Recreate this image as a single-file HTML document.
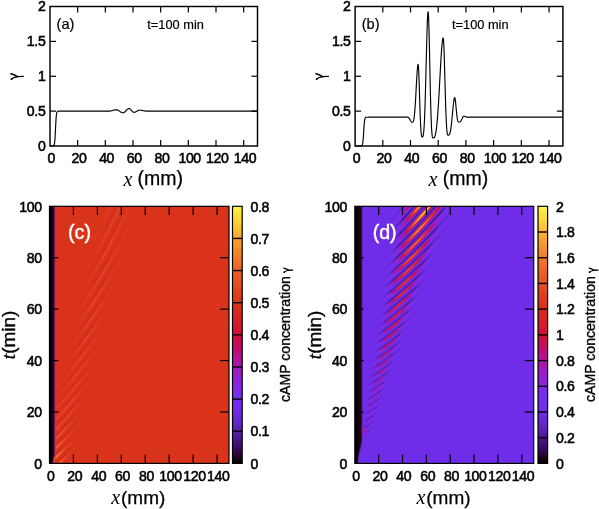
<!DOCTYPE html>
<html><head><meta charset="utf-8"><style>
html,body{margin:0;padding:0;background:#fff;width:599px;height:509px;overflow:hidden}
canvas{position:absolute}
#cc{left:49.5px;top:206.3px;width:179.5px;height:257.1px;background:#d9341a}
#cd{left:354.8px;top:206.3px;width:178.9px;height:257.1px;background:#6f2ce9}
svg{position:absolute;left:0;top:0}
</style></head><body>
<canvas id="cc" width="180" height="257"></canvas>
<canvas id="cd" width="179" height="257"></canvas>
<svg width="599" height="509" viewBox="0 0 599 509"><defs><linearGradient id="gc" x1="0" y1="1" x2="0" y2="0"><stop offset="0" stop-color="#000000"/><stop offset="0.02" stop-color="#1e0314"/><stop offset="0.03" stop-color="#28052f"/><stop offset="0.05" stop-color="#30084f"/><stop offset="0.06" stop-color="#390c63"/><stop offset="0.08" stop-color="#421074"/><stop offset="0.09" stop-color="#4a1485"/><stop offset="0.11" stop-color="#521996"/><stop offset="0.12" stop-color="#581ea8"/><stop offset="0.14" stop-color="#5e23b9"/><stop offset="0.16" stop-color="#6427c8"/><stop offset="0.17" stop-color="#6729d3"/><stop offset="0.19" stop-color="#6b2adf"/><stop offset="0.2" stop-color="#6e2ce8"/><stop offset="0.22" stop-color="#712dea"/><stop offset="0.23" stop-color="#742dec"/><stop offset="0.25" stop-color="#762eee"/><stop offset="0.27" stop-color="#7a2ceb"/><stop offset="0.28" stop-color="#7f2ae8"/><stop offset="0.3" stop-color="#8328e5"/><stop offset="0.31" stop-color="#8926dd"/><stop offset="0.33" stop-color="#8f22d4"/><stop offset="0.34" stop-color="#961fcc"/><stop offset="0.36" stop-color="#9c1cc0"/><stop offset="0.38" stop-color="#a419b4"/><stop offset="0.39" stop-color="#ab16a8"/><stop offset="0.41" stop-color="#b11399"/><stop offset="0.42" stop-color="#b61188"/><stop offset="0.44" stop-color="#bc0e77"/><stop offset="0.45" stop-color="#c10c66"/><stop offset="0.47" stop-color="#c50e56"/><stop offset="0.48" stop-color="#ca0f47"/><stop offset="0.5" stop-color="#ce1037"/><stop offset="0.52" stop-color="#d01433"/><stop offset="0.53" stop-color="#d2192f"/><stop offset="0.55" stop-color="#d51d2b"/><stop offset="0.56" stop-color="#d62227"/><stop offset="0.58" stop-color="#d62624"/><stop offset="0.59" stop-color="#d72b21"/><stop offset="0.61" stop-color="#d82f1d"/><stop offset="0.62" stop-color="#d9341a"/><stop offset="0.64" stop-color="#dc3a1c"/><stop offset="0.66" stop-color="#de401e"/><stop offset="0.67" stop-color="#e04620"/><stop offset="0.69" stop-color="#e34b22"/><stop offset="0.7" stop-color="#e55124"/><stop offset="0.72" stop-color="#e75726"/><stop offset="0.73" stop-color="#e95c27"/><stop offset="0.75" stop-color="#eb6228"/><stop offset="0.77" stop-color="#ed6a29"/><stop offset="0.78" stop-color="#ee712a"/><stop offset="0.8" stop-color="#f0782c"/><stop offset="0.81" stop-color="#f1812d"/><stop offset="0.83" stop-color="#f38a2e"/><stop offset="0.84" stop-color="#f49230"/><stop offset="0.86" stop-color="#f69d30"/><stop offset="0.88" stop-color="#f8a831"/><stop offset="0.89" stop-color="#f9b232"/><stop offset="0.91" stop-color="#fabd33"/><stop offset="0.92" stop-color="#fcc636"/><stop offset="0.94" stop-color="#fdd038"/><stop offset="0.95" stop-color="#fed93b"/><stop offset="0.97" stop-color="#fee03f"/><stop offset="0.98" stop-color="#ffe842"/><stop offset="1" stop-color="#fff046"/></linearGradient><linearGradient id="gd" x1="0" y1="1" x2="0" y2="0"><stop offset="0" stop-color="#000000"/><stop offset="0.02" stop-color="#1e0314"/><stop offset="0.03" stop-color="#28052f"/><stop offset="0.05" stop-color="#30084f"/><stop offset="0.06" stop-color="#390c63"/><stop offset="0.08" stop-color="#421074"/><stop offset="0.09" stop-color="#4a1485"/><stop offset="0.11" stop-color="#521996"/><stop offset="0.12" stop-color="#581ea8"/><stop offset="0.14" stop-color="#5e23b9"/><stop offset="0.16" stop-color="#6427c8"/><stop offset="0.17" stop-color="#6729d3"/><stop offset="0.19" stop-color="#6b2adf"/><stop offset="0.2" stop-color="#6e2ce8"/><stop offset="0.22" stop-color="#712dea"/><stop offset="0.23" stop-color="#742dec"/><stop offset="0.25" stop-color="#762eee"/><stop offset="0.27" stop-color="#7a2ceb"/><stop offset="0.28" stop-color="#7f2ae8"/><stop offset="0.3" stop-color="#8328e5"/><stop offset="0.31" stop-color="#8926dd"/><stop offset="0.33" stop-color="#8f22d4"/><stop offset="0.34" stop-color="#961fcc"/><stop offset="0.36" stop-color="#9c1cc0"/><stop offset="0.38" stop-color="#a419b4"/><stop offset="0.39" stop-color="#ab16a8"/><stop offset="0.41" stop-color="#b11399"/><stop offset="0.42" stop-color="#b61188"/><stop offset="0.44" stop-color="#bc0e77"/><stop offset="0.45" stop-color="#c10c66"/><stop offset="0.47" stop-color="#c50e56"/><stop offset="0.48" stop-color="#ca0f47"/><stop offset="0.5" stop-color="#ce1037"/><stop offset="0.52" stop-color="#d01433"/><stop offset="0.53" stop-color="#d2192f"/><stop offset="0.55" stop-color="#d51d2b"/><stop offset="0.56" stop-color="#d62227"/><stop offset="0.58" stop-color="#d62624"/><stop offset="0.59" stop-color="#d72b21"/><stop offset="0.61" stop-color="#d82f1d"/><stop offset="0.62" stop-color="#d9341a"/><stop offset="0.64" stop-color="#dc3a1c"/><stop offset="0.66" stop-color="#de401e"/><stop offset="0.67" stop-color="#e04620"/><stop offset="0.69" stop-color="#e34b22"/><stop offset="0.7" stop-color="#e55124"/><stop offset="0.72" stop-color="#e75726"/><stop offset="0.73" stop-color="#e95c27"/><stop offset="0.75" stop-color="#eb6228"/><stop offset="0.77" stop-color="#ed6a29"/><stop offset="0.78" stop-color="#ee712a"/><stop offset="0.8" stop-color="#f0782c"/><stop offset="0.81" stop-color="#f1812d"/><stop offset="0.83" stop-color="#f38a2e"/><stop offset="0.84" stop-color="#f49230"/><stop offset="0.86" stop-color="#f69d30"/><stop offset="0.88" stop-color="#f8a831"/><stop offset="0.89" stop-color="#f9b232"/><stop offset="0.91" stop-color="#fabd33"/><stop offset="0.92" stop-color="#fcc636"/><stop offset="0.94" stop-color="#fdd038"/><stop offset="0.95" stop-color="#fed93b"/><stop offset="0.97" stop-color="#fee03f"/><stop offset="0.98" stop-color="#ffe842"/><stop offset="1" stop-color="#fff046"/></linearGradient></defs>
<rect x="50" y="6.5" width="207.5" height="139.5" fill="none" stroke="#000" stroke-width="1.45"/>
<text x="51.3" y="162.6" font-size="14.1" text-anchor="middle" font-family='"Liberation Sans", sans-serif' fill="#000" stroke="#000" stroke-width="0.55" letter-spacing="-0.35" >0</text>
<line x1="77.67" y1="146" x2="77.67" y2="140" stroke="#000" stroke-width="1.2"/>
<line x1="77.67" y1="6.5" x2="77.67" y2="12.5" stroke="#000" stroke-width="1.2"/>
<text x="78.97" y="162.6" font-size="14.1" text-anchor="middle" font-family='"Liberation Sans", sans-serif' fill="#000" stroke="#000" stroke-width="0.55" letter-spacing="-0.35" >20</text>
<line x1="105.33" y1="146" x2="105.33" y2="140" stroke="#000" stroke-width="1.2"/>
<line x1="105.33" y1="6.5" x2="105.33" y2="12.5" stroke="#000" stroke-width="1.2"/>
<text x="106.63" y="162.6" font-size="14.1" text-anchor="middle" font-family='"Liberation Sans", sans-serif' fill="#000" stroke="#000" stroke-width="0.55" letter-spacing="-0.35" >40</text>
<line x1="133" y1="146" x2="133" y2="140" stroke="#000" stroke-width="1.2"/>
<line x1="133" y1="6.5" x2="133" y2="12.5" stroke="#000" stroke-width="1.2"/>
<text x="134.3" y="162.6" font-size="14.1" text-anchor="middle" font-family='"Liberation Sans", sans-serif' fill="#000" stroke="#000" stroke-width="0.55" letter-spacing="-0.35" >60</text>
<line x1="160.67" y1="146" x2="160.67" y2="140" stroke="#000" stroke-width="1.2"/>
<line x1="160.67" y1="6.5" x2="160.67" y2="12.5" stroke="#000" stroke-width="1.2"/>
<text x="161.97" y="162.6" font-size="14.1" text-anchor="middle" font-family='"Liberation Sans", sans-serif' fill="#000" stroke="#000" stroke-width="0.55" letter-spacing="-0.35" >80</text>
<line x1="188.33" y1="146" x2="188.33" y2="140" stroke="#000" stroke-width="1.2"/>
<line x1="188.33" y1="6.5" x2="188.33" y2="12.5" stroke="#000" stroke-width="1.2"/>
<text x="189.63" y="162.6" font-size="14.1" text-anchor="middle" font-family='"Liberation Sans", sans-serif' fill="#000" stroke="#000" stroke-width="0.55" letter-spacing="-0.35" >100</text>
<line x1="216" y1="146" x2="216" y2="140" stroke="#000" stroke-width="1.2"/>
<line x1="216" y1="6.5" x2="216" y2="12.5" stroke="#000" stroke-width="1.2"/>
<text x="217.3" y="162.6" font-size="14.1" text-anchor="middle" font-family='"Liberation Sans", sans-serif' fill="#000" stroke="#000" stroke-width="0.55" letter-spacing="-0.35" >120</text>
<line x1="243.67" y1="146" x2="243.67" y2="140" stroke="#000" stroke-width="1.2"/>
<line x1="243.67" y1="6.5" x2="243.67" y2="12.5" stroke="#000" stroke-width="1.2"/>
<text x="244.97" y="162.6" font-size="14.1" text-anchor="middle" font-family='"Liberation Sans", sans-serif' fill="#000" stroke="#000" stroke-width="0.55" letter-spacing="-0.35" >140</text>
<text x="45.4" y="150.9" font-size="14.1" text-anchor="end" font-family='"Liberation Sans", sans-serif' fill="#000" stroke="#000" stroke-width="0.55" letter-spacing="-0.35" >0</text>
<line x1="50" y1="111.12" x2="56" y2="111.12" stroke="#000" stroke-width="1.2"/>
<line x1="257.5" y1="111.12" x2="251.5" y2="111.12" stroke="#000" stroke-width="1.2"/>
<text x="45.4" y="116.03" font-size="14.1" text-anchor="end" font-family='"Liberation Sans", sans-serif' fill="#000" stroke="#000" stroke-width="0.55" letter-spacing="-0.35" >0.5</text>
<line x1="50" y1="76.25" x2="56" y2="76.25" stroke="#000" stroke-width="1.2"/>
<line x1="257.5" y1="76.25" x2="251.5" y2="76.25" stroke="#000" stroke-width="1.2"/>
<text x="45.4" y="81.15" font-size="14.1" text-anchor="end" font-family='"Liberation Sans", sans-serif' fill="#000" stroke="#000" stroke-width="0.55" letter-spacing="-0.35" >1</text>
<line x1="50" y1="41.38" x2="56" y2="41.38" stroke="#000" stroke-width="1.2"/>
<line x1="257.5" y1="41.38" x2="251.5" y2="41.38" stroke="#000" stroke-width="1.2"/>
<text x="45.4" y="46.27" font-size="14.1" text-anchor="end" font-family='"Liberation Sans", sans-serif' fill="#000" stroke="#000" stroke-width="0.55" letter-spacing="-0.35" >1.5</text>
<text x="45.4" y="11.4" font-size="14.1" text-anchor="end" font-family='"Liberation Sans", sans-serif' fill="#000" stroke="#000" stroke-width="0.55" letter-spacing="-0.35" >2</text>
<g transform="translate(0 0)" fill="none" stroke="#000" stroke-linecap="round"><path d="M10.9 73.7 C13 74.2 15.5 75.4 17.6 76.6" stroke-width="1.5"/><path d="M11.6 79.1 C12.6 77.9 15 77.2 17.6 76.6" stroke-width="1.2"/><circle cx="11.5" cy="79.2" r="0.9" fill="#000" stroke="none"/><path d="M17.2 76.6 L23.2 76.4" stroke-width="1.45"/></g>
<text x="123.4" y="185.5" font-size="20" text-anchor="start" font-family='"Liberation Serif", serif' fill="#000" stroke="#000" stroke-width="0"  font-style="italic">x</text>
<text x="137.6" y="185.4" font-size="19.5" text-anchor="start" font-family='"Liberation Sans", sans-serif' fill="#000" stroke="#000" stroke-width="0.25"  >(mm)</text>
<text x="56.6" y="28.9" font-size="14.6" text-anchor="start" font-family='"Liberation Sans", sans-serif' fill="#000" stroke="#000" stroke-width="0.2"  >(a)</text>
<text x="147.3" y="28.7" font-size="12.8" text-anchor="start" font-family='"Liberation Sans", sans-serif' fill="#000" stroke="#000" stroke-width="0.2"  >t=100 min</text>
<rect x="355.1" y="6.5" width="207.8" height="139.5" fill="none" stroke="#000" stroke-width="1.45"/>
<text x="356.4" y="162.6" font-size="14.1" text-anchor="middle" font-family='"Liberation Sans", sans-serif' fill="#000" stroke="#000" stroke-width="0.55" letter-spacing="-0.35" >0</text>
<line x1="382.81" y1="146" x2="382.81" y2="140" stroke="#000" stroke-width="1.2"/>
<line x1="382.81" y1="6.5" x2="382.81" y2="12.5" stroke="#000" stroke-width="1.2"/>
<text x="384.11" y="162.6" font-size="14.1" text-anchor="middle" font-family='"Liberation Sans", sans-serif' fill="#000" stroke="#000" stroke-width="0.55" letter-spacing="-0.35" >20</text>
<line x1="410.51" y1="146" x2="410.51" y2="140" stroke="#000" stroke-width="1.2"/>
<line x1="410.51" y1="6.5" x2="410.51" y2="12.5" stroke="#000" stroke-width="1.2"/>
<text x="411.81" y="162.6" font-size="14.1" text-anchor="middle" font-family='"Liberation Sans", sans-serif' fill="#000" stroke="#000" stroke-width="0.55" letter-spacing="-0.35" >40</text>
<line x1="438.22" y1="146" x2="438.22" y2="140" stroke="#000" stroke-width="1.2"/>
<line x1="438.22" y1="6.5" x2="438.22" y2="12.5" stroke="#000" stroke-width="1.2"/>
<text x="439.52" y="162.6" font-size="14.1" text-anchor="middle" font-family='"Liberation Sans", sans-serif' fill="#000" stroke="#000" stroke-width="0.55" letter-spacing="-0.35" >60</text>
<line x1="465.93" y1="146" x2="465.93" y2="140" stroke="#000" stroke-width="1.2"/>
<line x1="465.93" y1="6.5" x2="465.93" y2="12.5" stroke="#000" stroke-width="1.2"/>
<text x="467.23" y="162.6" font-size="14.1" text-anchor="middle" font-family='"Liberation Sans", sans-serif' fill="#000" stroke="#000" stroke-width="0.55" letter-spacing="-0.35" >80</text>
<line x1="493.63" y1="146" x2="493.63" y2="140" stroke="#000" stroke-width="1.2"/>
<line x1="493.63" y1="6.5" x2="493.63" y2="12.5" stroke="#000" stroke-width="1.2"/>
<text x="494.93" y="162.6" font-size="14.1" text-anchor="middle" font-family='"Liberation Sans", sans-serif' fill="#000" stroke="#000" stroke-width="0.55" letter-spacing="-0.35" >100</text>
<line x1="521.34" y1="146" x2="521.34" y2="140" stroke="#000" stroke-width="1.2"/>
<line x1="521.34" y1="6.5" x2="521.34" y2="12.5" stroke="#000" stroke-width="1.2"/>
<text x="522.64" y="162.6" font-size="14.1" text-anchor="middle" font-family='"Liberation Sans", sans-serif' fill="#000" stroke="#000" stroke-width="0.55" letter-spacing="-0.35" >120</text>
<line x1="549.05" y1="146" x2="549.05" y2="140" stroke="#000" stroke-width="1.2"/>
<line x1="549.05" y1="6.5" x2="549.05" y2="12.5" stroke="#000" stroke-width="1.2"/>
<text x="550.35" y="162.6" font-size="14.1" text-anchor="middle" font-family='"Liberation Sans", sans-serif' fill="#000" stroke="#000" stroke-width="0.55" letter-spacing="-0.35" >140</text>
<text x="350.5" y="150.9" font-size="14.1" text-anchor="end" font-family='"Liberation Sans", sans-serif' fill="#000" stroke="#000" stroke-width="0.55" letter-spacing="-0.35" >0</text>
<line x1="355.1" y1="111.12" x2="361.1" y2="111.12" stroke="#000" stroke-width="1.2"/>
<line x1="562.9" y1="111.12" x2="556.9" y2="111.12" stroke="#000" stroke-width="1.2"/>
<text x="350.5" y="116.03" font-size="14.1" text-anchor="end" font-family='"Liberation Sans", sans-serif' fill="#000" stroke="#000" stroke-width="0.55" letter-spacing="-0.35" >0.5</text>
<line x1="355.1" y1="76.25" x2="361.1" y2="76.25" stroke="#000" stroke-width="1.2"/>
<line x1="562.9" y1="76.25" x2="556.9" y2="76.25" stroke="#000" stroke-width="1.2"/>
<text x="350.5" y="81.15" font-size="14.1" text-anchor="end" font-family='"Liberation Sans", sans-serif' fill="#000" stroke="#000" stroke-width="0.55" letter-spacing="-0.35" >1</text>
<line x1="355.1" y1="41.38" x2="361.1" y2="41.38" stroke="#000" stroke-width="1.2"/>
<line x1="562.9" y1="41.38" x2="556.9" y2="41.38" stroke="#000" stroke-width="1.2"/>
<text x="350.5" y="46.27" font-size="14.1" text-anchor="end" font-family='"Liberation Sans", sans-serif' fill="#000" stroke="#000" stroke-width="0.55" letter-spacing="-0.35" >1.5</text>
<text x="350.5" y="11.4" font-size="14.1" text-anchor="end" font-family='"Liberation Sans", sans-serif' fill="#000" stroke="#000" stroke-width="0.55" letter-spacing="-0.35" >2</text>
<g transform="translate(305.1 0)" fill="none" stroke="#000" stroke-linecap="round"><path d="M10.9 73.7 C13 74.2 15.5 75.4 17.6 76.6" stroke-width="1.5"/><path d="M11.6 79.1 C12.6 77.9 15 77.2 17.6 76.6" stroke-width="1.2"/><circle cx="11.5" cy="79.2" r="0.9" fill="#000" stroke="none"/><path d="M17.2 76.6 L23.2 76.4" stroke-width="1.45"/></g>
<text x="428.5" y="185.5" font-size="20" text-anchor="start" font-family='"Liberation Serif", serif' fill="#000" stroke="#000" stroke-width="0"  font-style="italic">x</text>
<text x="442.7" y="185.4" font-size="19.5" text-anchor="start" font-family='"Liberation Sans", sans-serif' fill="#000" stroke="#000" stroke-width="0.25"  >(mm)</text>
<text x="361.7" y="28.9" font-size="14.6" text-anchor="start" font-family='"Liberation Sans", sans-serif' fill="#000" stroke="#000" stroke-width="0.2"  >(b)</text>
<text x="452" y="28.7" font-size="12.8" text-anchor="start" font-family='"Liberation Sans", sans-serif' fill="#000" stroke="#000" stroke-width="0.2"  >t=100 min</text>
<path d="M50 146L50.14 146L50.28 146L50.41 146L50.55 146L50.69 146L50.83 146L50.97 146L51.11 146L51.24 146L51.38 146L51.52 146L51.66 146L51.8 146L51.94 145.99L52.08 145.99L52.21 145.99L52.35 145.98L52.49 145.98L52.63 145.97L52.77 145.96L52.91 145.94L53.04 145.91L53.18 145.88L53.32 145.83L53.46 145.77L53.6 145.68L53.73 145.55L53.87 145.37L54.01 145.13L54.15 144.8L54.29 144.35L54.43 143.73L54.56 142.92L54.7 141.84L54.84 140.46L54.98 138.72L55.12 136.62L55.26 134.17L55.39 131.44L55.53 128.56L55.67 125.68L55.81 122.96L55.95 120.5L56.09 118.4L56.23 116.67L56.36 115.28L56.5 114.21L56.64 113.39L56.78 112.78L56.92 112.33L57.05 111.99L57.19 111.75L57.33 111.58L57.47 111.45L57.61 111.36L57.75 111.29L57.88 111.25L58.02 111.21L58.16 111.19L58.3 111.17L58.44 111.16L58.58 111.15L58.72 111.14L58.85 111.14L58.99 111.13L59.13 111.13L59.27 111.13L59.41 111.13L59.55 111.13L59.68 111.13L59.82 111.13L59.96 111.13L60.1 111.13L60.24 111.13L60.38 111.13L60.51 111.13L60.65 111.13L60.79 111.13L60.93 111.13L61.07 111.13L61.2 111.13L61.34 111.13L61.48 111.13L61.62 111.13L61.76 111.13L61.9 111.13L62.03 111.13L62.17 111.13L62.31 111.13L62.45 111.13L62.59 111.13L62.73 111.13L62.87 111.13L63 111.13L63.14 111.13L63.28 111.13L63.42 111.13L63.56 111.13L63.7 111.13L63.83 111.13L63.97 111.13L64.11 111.13L64.25 111.13L64.39 111.13L64.53 111.13L64.66 111.13L64.8 111.13L64.94 111.13L65.08 111.13L65.22 111.13L65.36 111.13L65.49 111.13L65.63 111.13L65.77 111.13L65.91 111.13L66.05 111.13L66.19 111.13L66.32 111.13L66.46 111.13L66.6 111.13L66.74 111.13L66.88 111.13L67.02 111.13L67.15 111.13L67.29 111.13L67.43 111.13L67.57 111.13L67.71 111.13L67.84 111.13L67.98 111.13L68.12 111.13L68.26 111.13L68.4 111.13L68.54 111.13L68.67 111.13L68.81 111.13L68.95 111.13L69.09 111.13L69.23 111.13L69.37 111.13L69.5 111.13L69.64 111.13L69.78 111.13L69.92 111.13L70.06 111.13L70.2 111.13L70.33 111.13L70.47 111.13L70.61 111.13L70.75 111.13L70.89 111.13L71.03 111.13L71.16 111.13L71.3 111.13L71.44 111.13L71.58 111.13L71.72 111.13L71.86 111.13L72 111.13L72.13 111.13L72.27 111.13L72.41 111.13L72.55 111.13L72.69 111.13L72.83 111.13L72.96 111.13L73.1 111.13L73.24 111.13L73.38 111.13L73.52 111.13L73.66 111.13L73.79 111.13L73.93 111.13L74.07 111.13L74.21 111.13L74.35 111.13L74.48 111.13L74.62 111.13L74.76 111.13L74.9 111.13L75.04 111.13L75.18 111.13L75.31 111.13L75.45 111.13L75.59 111.13L75.73 111.13L75.87 111.13L76.01 111.13L76.14 111.13L76.28 111.13L76.42 111.13L76.56 111.13L76.7 111.13L76.84 111.13L76.97 111.13L77.11 111.13L77.25 111.13L77.39 111.13L77.53 111.13L77.67 111.13L77.81 111.13L77.94 111.13L78.08 111.13L78.22 111.13L78.36 111.13L78.5 111.13L78.63 111.13L78.77 111.13L78.91 111.13L79.05 111.13L79.19 111.13L79.33 111.13L79.47 111.13L79.6 111.13L79.74 111.13L79.88 111.13L80.02 111.13L80.16 111.13L80.3 111.13L80.43 111.13L80.57 111.13L80.71 111.13L80.85 111.13L80.99 111.13L81.12 111.13L81.26 111.13L81.4 111.13L81.54 111.13L81.68 111.13L81.82 111.13L81.95 111.13L82.09 111.13L82.23 111.13L82.37 111.13L82.51 111.13L82.65 111.13L82.78 111.13L82.92 111.13L83.06 111.13L83.2 111.13L83.34 111.13L83.48 111.13L83.62 111.13L83.75 111.13L83.89 111.13L84.03 111.13L84.17 111.13L84.31 111.13L84.44 111.13L84.58 111.13L84.72 111.13L84.86 111.13L85 111.13L85.14 111.13L85.28 111.13L85.41 111.13L85.55 111.13L85.69 111.13L85.83 111.13L85.97 111.13L86.11 111.13L86.24 111.13L86.38 111.13L86.52 111.13L86.66 111.13L86.8 111.13L86.94 111.13L87.07 111.13L87.21 111.13L87.35 111.13L87.49 111.13L87.63 111.13L87.77 111.13L87.9 111.13L88.04 111.13L88.18 111.13L88.32 111.13L88.46 111.13L88.59 111.13L88.73 111.13L88.87 111.13L89.01 111.13L89.15 111.13L89.29 111.13L89.42 111.13L89.56 111.13L89.7 111.13L89.84 111.13L89.98 111.13L90.12 111.13L90.25 111.13L90.39 111.13L90.53 111.13L90.67 111.13L90.81 111.13L90.95 111.13L91.09 111.13L91.22 111.13L91.36 111.13L91.5 111.13L91.64 111.13L91.78 111.13L91.91 111.13L92.05 111.13L92.19 111.13L92.33 111.13L92.47 111.13L92.61 111.13L92.75 111.13L92.88 111.13L93.02 111.13L93.16 111.13L93.3 111.13L93.44 111.13L93.57 111.13L93.71 111.13L93.85 111.13L93.99 111.13L94.13 111.13L94.27 111.13L94.41 111.13L94.54 111.13L94.68 111.13L94.82 111.13L94.96 111.13L95.1 111.13L95.23 111.13L95.37 111.13L95.51 111.13L95.65 111.13L95.79 111.13L95.93 111.13L96.06 111.13L96.2 111.13L96.34 111.13L96.48 111.13L96.62 111.13L96.76 111.13L96.89 111.13L97.03 111.13L97.17 111.13L97.31 111.13L97.45 111.13L97.59 111.13L97.72 111.13L97.86 111.13L98 111.13L98.14 111.13L98.28 111.13L98.42 111.13L98.56 111.13L98.69 111.13L98.83 111.13L98.97 111.13L99.11 111.13L99.25 111.13L99.39 111.13L99.52 111.13L99.66 111.13L99.8 111.13L99.94 111.13L100.08 111.13L100.22 111.13L100.35 111.13L100.49 111.13L100.63 111.13L100.77 111.13L100.91 111.13L101.04 111.13L101.18 111.13L101.32 111.13L101.46 111.13L101.6 111.13L101.74 111.13L101.88 111.13L102.01 111.13L102.15 111.13L102.29 111.13L102.43 111.13L102.57 111.13L102.7 111.13L102.84 111.13L102.98 111.13L103.12 111.13L103.26 111.13L103.4 111.13L103.53 111.13L103.67 111.13L103.81 111.13L103.95 111.13L104.09 111.13L104.23 111.13L104.36 111.13L104.5 111.13L104.64 111.13L104.78 111.13L104.92 111.13L105.06 111.13L105.19 111.13L105.33 111.13L105.47 111.13L105.61 111.13L105.75 111.13L105.89 111.13L106.03 111.13L106.16 111.13L106.3 111.13L106.44 111.13L106.58 111.13L106.72 111.13L106.86 111.13L106.99 111.13L107.13 111.13L107.27 111.13L107.41 111.13L107.55 111.13L107.69 111.13L107.82 111.13L107.96 111.13L108.1 111.13L108.24 111.13L108.38 111.13L108.51 111.13L108.65 111.13L108.79 111.13L108.93 111.12L109.07 111.12L109.21 111.12L109.34 111.11L109.48 111.1L109.62 111.09L109.76 111.07L109.9 111.06L110.04 111.04L110.17 111.02L110.31 111L110.45 110.98L110.59 110.95L110.73 110.92L110.87 110.9L111 110.87L111.14 110.84L111.28 110.8L111.42 110.77L111.56 110.74L111.7 110.7L111.84 110.67L111.97 110.63L112.11 110.59L112.25 110.56L112.39 110.52L112.53 110.48L112.66 110.44L112.8 110.41L112.94 110.37L113.08 110.33L113.22 110.29L113.36 110.26L113.5 110.22L113.63 110.19L113.77 110.15L113.91 110.12L114.05 110.09L114.19 110.06L114.33 110.03L114.46 110L114.6 109.97L114.74 109.95L114.88 109.93L115.02 109.9L115.16 109.89L115.29 109.87L115.43 109.85L115.57 109.84L115.71 109.83L115.85 109.82L115.98 109.81L116.12 109.8L116.26 109.8L116.4 109.8L116.54 109.8L116.68 109.81L116.81 109.83L116.95 109.85L117.09 109.88L117.23 109.91L117.37 109.95L117.51 110L117.64 110.05L117.78 110.11L117.92 110.17L118.06 110.24L118.2 110.31L118.34 110.39L118.47 110.47L118.61 110.55L118.75 110.64L118.89 110.73L119.03 110.82L119.17 110.91L119.31 111.01L119.44 111.1L119.58 111.2L119.72 111.3L119.86 111.4L120 111.5L120.14 111.59L120.27 111.69L120.41 111.78L120.55 111.87L120.69 111.96L120.83 112.05L120.96 112.13L121.1 112.21L121.24 112.29L121.38 112.36L121.52 112.43L121.66 112.49L121.8 112.55L121.93 112.6L122.07 112.64L122.21 112.68L122.35 112.72L122.49 112.75L122.62 112.77L122.76 112.79L122.9 112.8L123.04 112.8L123.18 112.79L123.32 112.78L123.45 112.75L123.59 112.71L123.73 112.66L123.87 112.6L124.01 112.53L124.15 112.45L124.28 112.36L124.42 112.26L124.56 112.15L124.7 112.03L124.84 111.91L124.98 111.78L125.11 111.64L125.25 111.5L125.39 111.36L125.53 111.21L125.67 111.06L125.81 110.9L125.94 110.75L126.08 110.59L126.22 110.44L126.36 110.29L126.5 110.13L126.64 109.98L126.77 109.84L126.91 109.7L127.05 109.56L127.19 109.43L127.33 109.31L127.47 109.2L127.61 109.09L127.74 108.99L127.88 108.9L128.02 108.82L128.16 108.75L128.3 108.68L128.44 108.63L128.57 108.6L128.71 108.57L128.85 108.55L128.99 108.54L129.13 108.55L129.26 108.57L129.4 108.61L129.54 108.66L129.68 108.72L129.82 108.8L129.96 108.88L130.09 108.98L130.23 109.1L130.37 109.22L130.51 109.35L130.65 109.49L130.79 109.63L130.93 109.78L131.06 109.94L131.2 110.1L131.34 110.26L131.48 110.43L131.62 110.59L131.75 110.75L131.89 110.91L132.03 111.07L132.17 111.22L132.31 111.37L132.45 111.51L132.59 111.64L132.72 111.76L132.86 111.87L133 111.97L133.14 112.06L133.28 112.13L133.41 112.2L133.55 112.25L133.69 112.28L133.83 112.3L133.97 112.31L134.11 112.31L134.25 112.3L134.38 112.28L134.52 112.26L134.66 112.23L134.8 112.2L134.94 112.16L135.07 112.12L135.21 112.07L135.35 112.02L135.49 111.96L135.63 111.9L135.77 111.83L135.91 111.76L136.04 111.69L136.18 111.62L136.32 111.54L136.46 111.46L136.6 111.38L136.74 111.3L136.87 111.22L137.01 111.14L137.15 111.07L137.29 110.99L137.43 110.91L137.56 110.84L137.7 110.76L137.84 110.7L137.98 110.63L138.12 110.57L138.26 110.51L138.39 110.46L138.53 110.41L138.67 110.37L138.81 110.33L138.95 110.29L139.09 110.27L139.22 110.25L139.36 110.23L139.5 110.22L139.64 110.22L139.78 110.22L139.92 110.22L140.06 110.23L140.19 110.23L140.33 110.24L140.47 110.25L140.61 110.26L140.75 110.27L140.88 110.28L141.02 110.3L141.16 110.31L141.3 110.33L141.44 110.35L141.58 110.37L141.71 110.39L141.85 110.41L141.99 110.44L142.13 110.46L142.27 110.49L142.41 110.51L142.55 110.54L142.68 110.56L142.82 110.59L142.96 110.62L143.1 110.64L143.24 110.67L143.38 110.7L143.51 110.73L143.65 110.75L143.79 110.78L143.93 110.81L144.07 110.83L144.2 110.86L144.34 110.88L144.48 110.91L144.62 110.93L144.76 110.95L144.9 110.97L145.03 110.99L145.17 111.01L145.31 111.03L145.45 111.04L145.59 111.06L145.73 111.07L145.87 111.09L146 111.1L146.14 111.1L146.28 111.11L146.42 111.12L146.56 111.12L146.69 111.12L146.83 111.13L146.97 111.13L147.11 111.13L147.25 111.13L147.39 111.13L147.52 111.13L147.66 111.13L147.8 111.13L147.94 111.13L148.08 111.13L148.22 111.13L148.35 111.13L148.49 111.13L148.63 111.13L148.77 111.13L148.91 111.13L149.05 111.13L149.19 111.13L149.32 111.13L149.46 111.13L149.6 111.13L149.74 111.13L149.88 111.13L150.01 111.13L150.15 111.13L150.29 111.13L150.43 111.13L150.57 111.13L150.71 111.13L150.84 111.13L150.98 111.13L151.12 111.13L151.26 111.13L151.4 111.13L151.54 111.13L151.68 111.13L151.81 111.13L151.95 111.13L152.09 111.13L152.23 111.13L152.37 111.13L152.5 111.13L152.64 111.13L152.78 111.13L152.92 111.13L153.06 111.13L153.2 111.13L153.34 111.13L153.47 111.13L153.61 111.13L153.75 111.13L153.89 111.13L154.03 111.13L154.16 111.13L154.3 111.13L154.44 111.13L154.58 111.13L154.72 111.13L154.86 111.13L155 111.13L155.13 111.13L155.27 111.13L155.41 111.13L155.55 111.13L155.69 111.13L155.82 111.13L155.96 111.13L156.1 111.13L156.24 111.13L156.38 111.13L156.52 111.13L156.65 111.13L156.79 111.13L156.93 111.13L157.07 111.13L157.21 111.13L157.35 111.13L157.49 111.13L157.62 111.13L157.76 111.13L157.9 111.13L158.04 111.13L158.18 111.13L158.31 111.13L158.45 111.13L158.59 111.13L158.73 111.13L158.87 111.13L159.01 111.13L159.15 111.13L159.28 111.13L159.42 111.13L159.56 111.13L159.7 111.13L159.84 111.13L159.97 111.13L160.11 111.13L160.25 111.13L160.39 111.13L160.53 111.13L160.67 111.13L160.81 111.13L160.94 111.13L161.08 111.13L161.22 111.13L161.36 111.13L161.5 111.13L161.63 111.13L161.77 111.13L161.91 111.13L162.05 111.13L162.19 111.13L162.33 111.13L162.46 111.13L162.6 111.13L162.74 111.13L162.88 111.13L163.02 111.13L163.16 111.13L163.3 111.13L163.43 111.13L163.57 111.13L163.71 111.13L163.85 111.13L163.99 111.13L164.12 111.13L164.26 111.13L164.4 111.13L164.54 111.13L164.68 111.13L164.82 111.13L164.95 111.13L165.09 111.13L165.23 111.13L165.37 111.13L165.51 111.13L165.65 111.13L165.78 111.13L165.92 111.13L166.06 111.13L166.2 111.13L166.34 111.13L166.48 111.13L166.62 111.13L166.75 111.13L166.89 111.13L167.03 111.13L167.17 111.13L167.31 111.13L167.44 111.13L167.58 111.13L167.72 111.13L167.86 111.13L168 111.13L168.14 111.13L168.27 111.13L168.41 111.13L168.55 111.13L168.69 111.13L168.83 111.13L168.97 111.13L169.1 111.13L169.24 111.13L169.38 111.13L169.52 111.13L169.66 111.13L169.8 111.13L169.94 111.13L170.07 111.13L170.21 111.13L170.35 111.13L170.49 111.13L170.63 111.13L170.76 111.13L170.9 111.13L171.04 111.13L171.18 111.13L171.32 111.13L171.46 111.13L171.59 111.13L171.73 111.13L171.87 111.13L172.01 111.13L172.15 111.13L172.29 111.13L172.43 111.13L172.56 111.13L172.7 111.13L172.84 111.13L172.98 111.13L173.12 111.13L173.25 111.13L173.39 111.13L173.53 111.13L173.67 111.13L173.81 111.13L173.95 111.13L174.09 111.13L174.22 111.13L174.36 111.13L174.5 111.13L174.64 111.13L174.78 111.13L174.91 111.13L175.05 111.13L175.19 111.13L175.33 111.13L175.47 111.13L175.61 111.13L175.75 111.13L175.88 111.13L176.02 111.13L176.16 111.13L176.3 111.13L176.44 111.13L176.57 111.13L176.71 111.13L176.85 111.13L176.99 111.13L177.13 111.13L177.27 111.13L177.4 111.13L177.54 111.13L177.68 111.13L177.82 111.13L177.96 111.13L178.1 111.13L178.24 111.13L178.37 111.13L178.51 111.13L178.65 111.13L178.79 111.13L178.93 111.13L179.06 111.13L179.2 111.13L179.34 111.13L179.48 111.13L179.62 111.13L179.76 111.13L179.9 111.13L180.03 111.13L180.17 111.13L180.31 111.13L180.45 111.13L180.59 111.13L180.72 111.13L180.86 111.13L181 111.13L181.14 111.13L181.28 111.13L181.42 111.13L181.55 111.13L181.69 111.13L181.83 111.13L181.97 111.13L182.11 111.13L182.25 111.13L182.38 111.13L182.52 111.13L182.66 111.13L182.8 111.13L182.94 111.13L183.08 111.13L183.22 111.13L183.35 111.13L183.49 111.13L183.63 111.13L183.77 111.13L183.91 111.13L184.05 111.13L184.18 111.13L184.32 111.13L184.46 111.13L184.6 111.13L184.74 111.13L184.88 111.13L185.01 111.13L185.15 111.13L185.29 111.13L185.43 111.13L185.57 111.13L185.7 111.13L185.84 111.13L185.98 111.13L186.12 111.13L186.26 111.13L186.4 111.13L186.53 111.13L186.67 111.13L186.81 111.13L186.95 111.13L187.09 111.13L187.23 111.13L187.36 111.13L187.5 111.13L187.64 111.13L187.78 111.13L187.92 111.13L188.06 111.13L188.19 111.13L188.33 111.13L188.47 111.13L188.61 111.13L188.75 111.13L188.89 111.13L189.03 111.13L189.16 111.13L189.3 111.13L189.44 111.13L189.58 111.13L189.72 111.13L189.85 111.13L189.99 111.13L190.13 111.13L190.27 111.13L190.41 111.13L190.55 111.13L190.69 111.13L190.82 111.13L190.96 111.13L191.1 111.13L191.24 111.13L191.38 111.13L191.51 111.13L191.65 111.13L191.79 111.13L191.93 111.13L192.07 111.13L192.21 111.13L192.34 111.13L192.48 111.13L192.62 111.13L192.76 111.13L192.9 111.13L193.04 111.13L193.17 111.13L193.31 111.13L193.45 111.13L193.59 111.13L193.73 111.13L193.87 111.13L194 111.13L194.14 111.13L194.28 111.13L194.42 111.13L194.56 111.13L194.7 111.13L194.84 111.13L194.97 111.13L195.11 111.13L195.25 111.13L195.39 111.13L195.53 111.13L195.66 111.13L195.8 111.13L195.94 111.13L196.08 111.13L196.22 111.13L196.36 111.13L196.5 111.13L196.63 111.13L196.77 111.13L196.91 111.13L197.05 111.13L197.19 111.13L197.32 111.13L197.46 111.13L197.6 111.13L197.74 111.13L197.88 111.13L198.02 111.13L198.16 111.13L198.29 111.13L198.43 111.13L198.57 111.13L198.71 111.13L198.85 111.13L198.99 111.13L199.12 111.13L199.26 111.13L199.4 111.13L199.54 111.13L199.68 111.13L199.81 111.13L199.95 111.13L200.09 111.13L200.23 111.13L200.37 111.13L200.51 111.13L200.65 111.13L200.78 111.13L200.92 111.13L201.06 111.13L201.2 111.13L201.34 111.13L201.47 111.13L201.61 111.13L201.75 111.13L201.89 111.13L202.03 111.13L202.17 111.13L202.3 111.13L202.44 111.13L202.58 111.13L202.72 111.13L202.86 111.13L203 111.13L203.13 111.13L203.27 111.13L203.41 111.13L203.55 111.13L203.69 111.13L203.83 111.13L203.97 111.13L204.1 111.13L204.24 111.13L204.38 111.13L204.52 111.13L204.66 111.13L204.8 111.13L204.93 111.13L205.07 111.13L205.21 111.13L205.35 111.13L205.49 111.13L205.62 111.13L205.76 111.13L205.9 111.13L206.04 111.13L206.18 111.13L206.32 111.13L206.45 111.13L206.59 111.13L206.73 111.13L206.87 111.13L207.01 111.13L207.15 111.13L207.28 111.13L207.42 111.13L207.56 111.13L207.7 111.13L207.84 111.13L207.98 111.13L208.11 111.13L208.25 111.13L208.39 111.13L208.53 111.13L208.67 111.13L208.81 111.13L208.94 111.13L209.08 111.13L209.22 111.13L209.36 111.13L209.5 111.13L209.64 111.13L209.78 111.13L209.91 111.13L210.05 111.13L210.19 111.13L210.33 111.13L210.47 111.13L210.6 111.13L210.74 111.13L210.88 111.13L211.02 111.13L211.16 111.13L211.3 111.13L211.44 111.13L211.57 111.13L211.71 111.13L211.85 111.13L211.99 111.13L212.13 111.13L212.26 111.13L212.4 111.13L212.54 111.13L212.68 111.13L212.82 111.13L212.96 111.13L213.09 111.13L213.23 111.13L213.37 111.13L213.51 111.13L213.65 111.13L213.79 111.13L213.92 111.13L214.06 111.13L214.2 111.13L214.34 111.13L214.48 111.13L214.62 111.13L214.75 111.13L214.89 111.13L215.03 111.13L215.17 111.13L215.31 111.13L215.45 111.13L215.59 111.13L215.72 111.13L215.86 111.13L216 111.13L216.14 111.13L216.28 111.13L216.41 111.13L216.55 111.13L216.69 111.13L216.83 111.13L216.97 111.13L217.11 111.13L217.25 111.13L217.38 111.13L217.52 111.13L217.66 111.13L217.8 111.13L217.94 111.13L218.07 111.13L218.21 111.13L218.35 111.13L218.49 111.13L218.63 111.13L218.77 111.13L218.91 111.13L219.04 111.13L219.18 111.13L219.32 111.13L219.46 111.13L219.6 111.13L219.74 111.13L219.87 111.13L220.01 111.13L220.15 111.13L220.29 111.13L220.43 111.13L220.56 111.13L220.7 111.13L220.84 111.13L220.98 111.13L221.12 111.13L221.26 111.13L221.4 111.13L221.53 111.13L221.67 111.13L221.81 111.13L221.95 111.13L222.09 111.13L222.22 111.13L222.36 111.13L222.5 111.13L222.64 111.13L222.78 111.13L222.92 111.13L223.05 111.13L223.19 111.13L223.33 111.13L223.47 111.13L223.61 111.13L223.75 111.13L223.88 111.13L224.02 111.13L224.16 111.13L224.3 111.13L224.44 111.13L224.58 111.13L224.72 111.13L224.85 111.13L224.99 111.13L225.13 111.13L225.27 111.13L225.41 111.13L225.55 111.13L225.68 111.13L225.82 111.13L225.96 111.13L226.1 111.13L226.24 111.13L226.38 111.13L226.51 111.13L226.65 111.13L226.79 111.13L226.93 111.13L227.07 111.13L227.2 111.13L227.34 111.13L227.48 111.13L227.62 111.13L227.76 111.13L227.9 111.13L228.03 111.13L228.17 111.13L228.31 111.13L228.45 111.13L228.59 111.13L228.73 111.13L228.87 111.13L229 111.13L229.14 111.13L229.28 111.13L229.42 111.13L229.56 111.13L229.69 111.13L229.83 111.13L229.97 111.13L230.11 111.13L230.25 111.13L230.39 111.13L230.53 111.13L230.66 111.13L230.8 111.13L230.94 111.13L231.08 111.13L231.22 111.13L231.35 111.13L231.49 111.13L231.63 111.13L231.77 111.13L231.91 111.13L232.05 111.13L232.18 111.13L232.32 111.13L232.46 111.13L232.6 111.13L232.74 111.13L232.88 111.13L233.02 111.13L233.15 111.13L233.29 111.13L233.43 111.13L233.57 111.13L233.71 111.13L233.84 111.13L233.98 111.13L234.12 111.13L234.26 111.13L234.4 111.13L234.54 111.13L234.67 111.13L234.81 111.13L234.95 111.13L235.09 111.13L235.23 111.13L235.37 111.13L235.5 111.13L235.64 111.13L235.78 111.13L235.92 111.13L236.06 111.13L236.2 111.13L236.33 111.13L236.47 111.13L236.61 111.13L236.75 111.13L236.89 111.13L237.03 111.13L237.17 111.13L237.3 111.13L237.44 111.13L237.58 111.13L237.72 111.13L237.86 111.13L238 111.13L238.13 111.13L238.27 111.13L238.41 111.13L238.55 111.13L238.69 111.13L238.82 111.13L238.96 111.13L239.1 111.13L239.24 111.13L239.38 111.13L239.52 111.13L239.66 111.13L239.79 111.13L239.93 111.13L240.07 111.13L240.21 111.13L240.35 111.13L240.48 111.13L240.62 111.13L240.76 111.13L240.9 111.13L241.04 111.13L241.18 111.13L241.31 111.13L241.45 111.13L241.59 111.13L241.73 111.13L241.87 111.13L242.01 111.13L242.15 111.13L242.28 111.13L242.42 111.13L242.56 111.13L242.7 111.13L242.84 111.13L242.97 111.13L243.11 111.13L243.25 111.13L243.39 111.13L243.53 111.13L243.67 111.13L243.8 111.13L243.94 111.13L244.08 111.13L244.22 111.13L244.36 111.13L244.5 111.13L244.63 111.13L244.77 111.13L244.91 111.13L245.05 111.13L245.19 111.13L245.33 111.13L245.47 111.13L245.6 111.13L245.74 111.13L245.88 111.13L246.02 111.13L246.16 111.13L246.3 111.13L246.43 111.13L246.57 111.13L246.71 111.13L246.85 111.13L246.99 111.13L247.12 111.13L247.26 111.13L247.4 111.13L247.54 111.13L247.68 111.13L247.82 111.13L247.95 111.13L248.09 111.13L248.23 111.13L248.37 111.13L248.51 111.13L248.65 111.13L248.78 111.13L248.92 111.13L249.06 111.13L249.2 111.13L249.34 111.13L249.48 111.13L249.62 111.13L249.75 111.13L249.89 111.13L250.03 111.13L250.17 111.13L250.31 111.13L250.44 111.13L250.58 111.13L250.72 111.13L250.86 111.13L251 111.13L251.14 111.13L251.28 111.13L251.41 111.13L251.55 111.13L251.69 111.13L251.83 111.13L251.97 111.13L252.1 111.13L252.24 111.13L252.38 111.13L252.52 111.13L252.66 111.13L252.8 111.13L252.93 111.13L253.07 111.13L253.21 111.13L253.35 111.13L253.49 111.13L253.63 111.13L253.77 111.13L253.9 111.13L254.04 111.13L254.18 111.13L254.32 111.13L254.46 111.13L254.59 111.13L254.73 111.13L254.87 111.13L255.01 111.13L255.15 111.13L255.29 111.13L255.42 111.13L255.56 111.13L255.7 111.13L255.84 111.13L255.98 111.13L256.12 111.13L256.25 111.13L256.39 111.13L256.53 111.13L256.67 111.13L256.81 111.13L256.95 111.13L257.08 111.13L257.22 111.13L257.36 111.13L257.5 111.13" fill="none" stroke="#000" stroke-width="1.15" stroke-linejoin="round"/>
<path d="M355.1 146L355.24 146L355.38 146L355.52 146L355.65 146L355.79 146L355.93 146L356.07 146L356.21 146L356.35 146L356.49 146L356.62 146L356.76 146L356.9 146L357.04 146L357.18 146L357.32 146L357.46 146L357.59 146L357.73 146L357.87 146L358.01 146L358.15 146L358.29 146L358.42 146L358.56 146L358.7 146L358.84 146L358.98 146L359.12 146L359.26 146L359.39 146L359.53 146L359.67 146L359.81 146L359.95 145.99L360.09 145.99L360.23 145.99L360.36 145.98L360.5 145.98L360.64 145.97L360.78 145.96L360.92 145.94L361.06 145.92L361.2 145.9L361.33 145.86L361.47 145.81L361.61 145.74L361.75 145.64L361.89 145.51L362.03 145.34L362.17 145.1L362.3 144.79L362.44 144.37L362.58 143.81L362.72 143.09L362.86 142.17L363 141.01L363.13 139.58L363.27 137.89L363.41 135.96L363.55 133.83L363.69 131.6L363.83 129.36L363.97 127.24L364.1 125.3L364.24 123.61L364.38 122.19L364.52 121.02L364.66 120.1L364.8 119.38L364.94 118.83L365.07 118.41L365.21 118.09L365.35 117.86L365.49 117.68L365.63 117.55L365.77 117.46L365.91 117.39L366.04 117.33L366.18 117.3L366.32 117.27L366.46 117.25L366.6 117.23L366.74 117.22L366.88 117.22L367.01 117.21L367.15 117.2L367.29 117.2L367.43 117.2L367.57 117.2L367.71 117.2L367.85 117.2L367.98 117.2L368.12 117.19L368.26 117.19L368.4 117.19L368.54 117.19L368.68 117.19L368.81 117.19L368.95 117.19L369.09 117.19L369.23 117.19L369.37 117.19L369.51 117.19L369.65 117.19L369.78 117.19L369.92 117.19L370.06 117.19L370.2 117.19L370.34 117.19L370.48 117.19L370.62 117.19L370.75 117.19L370.89 117.19L371.03 117.19L371.17 117.19L371.31 117.19L371.45 117.19L371.59 117.19L371.72 117.19L371.86 117.19L372 117.19L372.14 117.19L372.28 117.19L372.42 117.19L372.56 117.19L372.69 117.19L372.83 117.19L372.97 117.19L373.11 117.19L373.25 117.19L373.39 117.19L373.52 117.19L373.66 117.19L373.8 117.19L373.94 117.19L374.08 117.19L374.22 117.19L374.36 117.19L374.49 117.19L374.63 117.19L374.77 117.19L374.91 117.19L375.05 117.19L375.19 117.19L375.33 117.19L375.46 117.19L375.6 117.19L375.74 117.19L375.88 117.19L376.02 117.19L376.16 117.19L376.3 117.19L376.43 117.19L376.57 117.19L376.71 117.19L376.85 117.19L376.99 117.19L377.13 117.19L377.27 117.19L377.4 117.19L377.54 117.19L377.68 117.19L377.82 117.19L377.96 117.19L378.1 117.19L378.24 117.19L378.37 117.19L378.51 117.19L378.65 117.19L378.79 117.19L378.93 117.19L379.07 117.19L379.2 117.19L379.34 117.19L379.48 117.19L379.62 117.19L379.76 117.19L379.9 117.19L380.04 117.19L380.17 117.19L380.31 117.19L380.45 117.19L380.59 117.19L380.73 117.19L380.87 117.19L381.01 117.19L381.14 117.19L381.28 117.19L381.42 117.19L381.56 117.19L381.7 117.19L381.84 117.19L381.98 117.19L382.11 117.19L382.25 117.19L382.39 117.19L382.53 117.19L382.67 117.19L382.81 117.19L382.95 117.19L383.08 117.19L383.22 117.19L383.36 117.19L383.5 117.19L383.64 117.19L383.78 117.19L383.91 117.19L384.05 117.19L384.19 117.19L384.33 117.19L384.47 117.19L384.61 117.19L384.75 117.19L384.88 117.19L385.02 117.19L385.16 117.19L385.3 117.19L385.44 117.19L385.58 117.19L385.72 117.19L385.85 117.19L385.99 117.19L386.13 117.19L386.27 117.19L386.41 117.19L386.55 117.19L386.69 117.19L386.82 117.19L386.96 117.19L387.1 117.19L387.24 117.19L387.38 117.19L387.52 117.19L387.66 117.19L387.79 117.19L387.93 117.19L388.07 117.19L388.21 117.19L388.35 117.19L388.49 117.19L388.63 117.19L388.76 117.19L388.9 117.19L389.04 117.19L389.18 117.19L389.32 117.19L389.46 117.19L389.59 117.19L389.73 117.19L389.87 117.19L390.01 117.19L390.15 117.19L390.29 117.19L390.43 117.19L390.56 117.19L390.7 117.19L390.84 117.19L390.98 117.19L391.12 117.19L391.26 117.19L391.4 117.19L391.53 117.19L391.67 117.19L391.81 117.19L391.95 117.19L392.09 117.19L392.23 117.19L392.37 117.19L392.5 117.19L392.64 117.19L392.78 117.19L392.92 117.19L393.06 117.19L393.2 117.19L393.34 117.19L393.47 117.19L393.61 117.19L393.75 117.19L393.89 117.19L394.03 117.19L394.17 117.19L394.3 117.19L394.44 117.19L394.58 117.19L394.72 117.19L394.86 117.19L395 117.19L395.14 117.19L395.27 117.19L395.41 117.19L395.55 117.19L395.69 117.19L395.83 117.19L395.97 117.19L396.11 117.19L396.24 117.19L396.38 117.19L396.52 117.19L396.66 117.19L396.8 117.19L396.94 117.19L397.08 117.19L397.21 117.19L397.35 117.19L397.49 117.19L397.63 117.19L397.77 117.19L397.91 117.19L398.05 117.19L398.18 117.19L398.32 117.19L398.46 117.19L398.6 117.19L398.74 117.19L398.88 117.19L399.02 117.19L399.15 117.19L399.29 117.19L399.43 117.19L399.57 117.19L399.71 117.19L399.85 117.19L399.98 117.19L400.12 117.19L400.26 117.19L400.4 117.19L400.54 117.19L400.68 117.19L400.82 117.19L400.95 117.19L401.09 117.19L401.23 117.19L401.37 117.19L401.51 117.19L401.65 117.19L401.79 117.19L401.92 117.19L402.06 117.19L402.2 117.19L402.34 117.19L402.48 117.19L402.62 117.19L402.76 117.19L402.89 117.19L403.03 117.19L403.17 117.19L403.31 117.19L403.45 117.19L403.59 117.19L403.73 117.19L403.86 117.19L404 117.19L404.14 117.19L404.28 117.19L404.42 117.19L404.56 117.19L404.69 117.19L404.83 117.19L404.97 117.19L405.11 117.19L405.25 117.19L405.39 117.19L405.53 117.19L405.66 117.19L405.8 117.19L405.94 117.19L406.08 117.19L406.22 117.19L406.36 117.19L406.5 117.19L406.63 117.19L406.77 117.19L406.91 117.19L407.05 117.19L407.19 117.19L407.33 117.19L407.47 117.19L407.6 117.19L407.74 117.19L407.88 117.2L408.02 117.24L408.16 117.3L408.3 117.38L408.44 117.48L408.57 117.6L408.71 117.74L408.85 117.9L408.99 118.07L409.13 118.26L409.27 118.47L409.41 118.68L409.54 118.91L409.68 119.14L409.82 119.38L409.96 119.62L410.1 119.86L410.24 120.1L410.37 120.34L410.51 120.57L410.65 120.8L410.79 121.01L410.93 121.22L411.07 121.41L411.21 121.58L411.34 121.74L411.48 121.88L411.62 122L411.76 122.1L411.9 122.18L412.04 122.24L412.18 122.27L412.31 122.28L412.45 122.28L412.59 122.26L412.73 122.22L412.87 122.13L413.01 121.99L413.15 121.78L413.28 121.5L413.42 121.13L413.56 120.66L413.7 120.09L413.84 119.4L413.98 118.59L414.12 117.65L414.25 116.58L414.39 115.37L414.53 114.01L414.67 112.52L414.81 110.88L414.95 109.11L415.08 107.2L415.22 105.17L415.36 103.01L415.5 100.75L415.64 98.39L415.78 95.94L415.92 93.44L416.05 90.89L416.19 88.32L416.33 85.75L416.47 83.2L416.61 80.7L416.75 78.28L416.89 75.97L417.02 73.78L417.16 71.77L417.3 69.94L417.44 68.33L417.58 66.96L417.72 65.86L417.86 65.06L417.99 64.56L418.13 64.39L418.27 64.8L418.41 66L418.55 67.93L418.69 70.5L418.83 73.64L418.96 77.24L419.1 81.22L419.24 85.47L419.38 89.89L419.52 94.4L419.66 98.91L419.8 103.34L419.93 107.63L420.07 111.71L420.21 115.53L420.35 119.06L420.49 122.27L420.63 125.14L420.76 127.67L420.9 129.84L421.04 131.68L421.18 133.19L421.32 134.4L421.46 135.33L421.6 136.01L421.73 136.48L421.87 136.78L422.01 136.93L422.15 136.99L422.29 137L422.43 137L422.57 136.96L422.7 136.86L422.84 136.66L422.98 136.36L423.12 135.91L423.26 135.3L423.4 134.5L423.54 133.49L423.67 132.25L423.81 130.76L423.95 129.01L424.09 126.98L424.23 124.66L424.37 122.04L424.51 119.12L424.64 115.88L424.78 112.35L424.92 108.51L425.06 104.38L425.2 99.98L425.34 95.32L425.47 90.42L425.61 85.32L425.75 80.04L425.89 74.62L426.03 69.11L426.17 63.55L426.31 57.98L426.44 52.47L426.58 47.07L426.72 41.84L426.86 36.83L427 32.11L427.14 27.75L427.28 23.79L427.41 20.31L427.55 17.35L427.69 14.98L427.83 13.24L427.97 12.16L428.11 11.8L428.25 12.3L428.38 13.76L428.52 16.12L428.66 19.32L428.8 23.26L428.94 27.86L429.08 33.03L429.22 38.66L429.35 44.66L429.49 50.94L429.63 57.39L429.77 63.92L429.91 70.45L430.05 76.91L430.19 83.21L430.32 89.3L430.46 95.12L430.6 100.62L430.74 105.77L430.88 110.53L431.02 114.9L431.15 118.84L431.29 122.37L431.43 125.48L431.57 128.18L431.71 130.48L431.85 132.41L431.99 133.98L432.12 135.23L432.26 136.19L432.4 136.9L432.54 137.38L432.68 137.68L432.82 137.84L432.96 137.9L433.09 137.91L433.23 137.91L433.37 137.9L433.51 137.89L433.65 137.85L433.79 137.81L433.93 137.73L434.06 137.63L434.2 137.5L434.34 137.34L434.48 137.14L434.62 136.89L434.76 136.6L434.9 136.26L435.03 135.87L435.17 135.43L435.31 134.92L435.45 134.35L435.59 133.72L435.73 133.02L435.86 132.25L436 131.41L436.14 130.49L436.28 129.5L436.42 128.44L436.56 127.29L436.7 126.06L436.83 124.76L436.97 123.37L437.11 121.9L437.25 120.35L437.39 118.72L437.53 117.01L437.67 115.22L437.8 113.36L437.94 111.42L438.08 109.41L438.22 107.32L438.36 105.18L438.5 102.96L438.64 100.69L438.77 98.37L438.91 95.99L439.05 93.57L439.19 91.11L439.33 88.62L439.47 86.1L439.61 83.56L439.74 81.01L439.88 78.46L440.02 75.9L440.16 73.36L440.3 70.83L440.44 68.33L440.58 65.87L440.71 63.46L440.85 61.1L440.99 58.8L441.13 56.57L441.27 54.43L441.41 52.38L441.54 50.43L441.68 48.59L441.82 46.87L441.96 45.28L442.1 43.82L442.24 42.52L442.38 41.36L442.51 40.36L442.65 39.54L442.79 38.88L442.93 38.41L443.07 38.12L443.21 38.03L443.35 38.41L443.48 39.54L443.62 41.36L443.76 43.82L443.9 46.85L444.04 50.4L444.18 54.38L444.32 58.72L444.45 63.35L444.59 68.18L444.73 73.15L444.87 78.18L445.01 83.22L445.15 88.19L445.29 93.05L445.42 97.74L445.56 102.22L445.7 106.46L445.84 110.42L445.98 114.1L446.12 117.46L446.25 120.5L446.39 123.22L446.53 125.61L446.67 127.69L446.81 129.46L446.95 130.95L447.09 132.16L447.22 133.13L447.36 133.87L447.5 134.41L447.64 134.78L447.78 135.01L447.92 135.13L448.06 135.18L448.19 135.19L448.33 135.19L448.47 135.18L448.61 135.16L448.75 135.12L448.89 135.05L449.03 134.95L449.16 134.82L449.3 134.64L449.44 134.42L449.58 134.15L449.72 133.83L449.86 133.44L450 133L450.13 132.48L450.27 131.9L450.41 131.25L450.55 130.53L450.69 129.73L450.83 128.86L450.97 127.91L451.1 126.9L451.24 125.81L451.38 124.65L451.52 123.43L451.66 122.15L451.8 120.82L451.93 119.44L452.07 118.02L452.21 116.56L452.35 115.08L452.49 113.59L452.63 112.09L452.77 110.6L452.9 109.13L453.04 107.69L453.18 106.3L453.32 104.96L453.46 103.69L453.6 102.51L453.74 101.42L453.87 100.44L454.01 99.59L454.15 98.87L454.29 98.29L454.43 97.87L454.57 97.61L454.71 97.52L454.84 97.66L454.98 98.07L455.12 98.72L455.26 99.58L455.4 100.64L455.54 101.86L455.68 103.2L455.81 104.63L455.95 106.12L456.09 107.64L456.23 109.16L456.37 110.66L456.51 112.1L456.64 113.48L456.78 114.77L456.92 115.96L457.06 117.04L457.2 118.01L457.34 118.86L457.48 119.59L457.61 120.21L457.75 120.72L457.89 121.13L458.03 121.44L458.17 121.67L458.31 121.83L458.45 121.93L458.58 121.98L458.72 122L458.86 122.01L459 122.01L459.14 122L459.28 121.99L459.42 121.98L459.55 121.96L459.69 121.92L459.83 121.87L459.97 121.81L460.11 121.74L460.25 121.64L460.39 121.53L460.52 121.4L460.66 121.24L460.8 121.07L460.94 120.88L461.08 120.67L461.22 120.44L461.36 120.19L461.49 119.92L461.63 119.64L461.77 119.35L461.91 119.06L462.05 118.75L462.19 118.45L462.32 118.14L462.46 117.85L462.6 117.57L462.74 117.3L462.88 117.05L463.02 116.83L463.16 116.65L463.29 116.49L463.43 116.38L463.57 116.31L463.71 116.29L463.85 116.29L463.99 116.3L464.13 116.32L464.26 116.34L464.4 116.37L464.54 116.4L464.68 116.44L464.82 116.48L464.96 116.52L465.1 116.57L465.23 116.61L465.37 116.66L465.51 116.71L465.65 116.75L465.79 116.8L465.93 116.84L466.07 116.89L466.2 116.93L466.34 116.96L466.48 117L466.62 117.03L466.76 117.06L466.9 117.08L467.03 117.1L467.17 117.12L467.31 117.14L467.45 117.15L467.59 117.17L467.73 117.17L467.87 117.18L468 117.19L468.14 117.19L468.28 117.19L468.42 117.19L468.56 117.19L468.7 117.19L468.84 117.19L468.97 117.19L469.11 117.19L469.25 117.19L469.39 117.19L469.53 117.19L469.67 117.19L469.81 117.19L469.94 117.19L470.08 117.19L470.22 117.19L470.36 117.19L470.5 117.19L470.64 117.19L470.78 117.19L470.91 117.19L471.05 117.19L471.19 117.19L471.33 117.19L471.47 117.19L471.61 117.19L471.75 117.19L471.88 117.19L472.02 117.19L472.16 117.19L472.3 117.19L472.44 117.19L472.58 117.19L472.71 117.19L472.85 117.19L472.99 117.19L473.13 117.19L473.27 117.19L473.41 117.19L473.55 117.19L473.68 117.19L473.82 117.19L473.96 117.19L474.1 117.19L474.24 117.19L474.38 117.19L474.52 117.19L474.65 117.19L474.79 117.19L474.93 117.19L475.07 117.19L475.21 117.19L475.35 117.19L475.49 117.19L475.62 117.19L475.76 117.19L475.9 117.19L476.04 117.19L476.18 117.19L476.32 117.19L476.46 117.19L476.59 117.19L476.73 117.19L476.87 117.19L477.01 117.19L477.15 117.19L477.29 117.19L477.42 117.19L477.56 117.19L477.7 117.19L477.84 117.19L477.98 117.19L478.12 117.19L478.26 117.19L478.39 117.19L478.53 117.19L478.67 117.19L478.81 117.19L478.95 117.19L479.09 117.19L479.23 117.19L479.36 117.19L479.5 117.19L479.64 117.19L479.78 117.19L479.92 117.19L480.06 117.19L480.2 117.19L480.33 117.19L480.47 117.19L480.61 117.19L480.75 117.19L480.89 117.19L481.03 117.19L481.17 117.19L481.3 117.19L481.44 117.19L481.58 117.19L481.72 117.19L481.86 117.19L482 117.19L482.14 117.19L482.27 117.19L482.41 117.19L482.55 117.19L482.69 117.19L482.83 117.19L482.97 117.19L483.1 117.19L483.24 117.19L483.38 117.19L483.52 117.19L483.66 117.19L483.8 117.19L483.94 117.19L484.07 117.19L484.21 117.19L484.35 117.19L484.49 117.19L484.63 117.19L484.77 117.19L484.91 117.19L485.04 117.19L485.18 117.19L485.32 117.19L485.46 117.19L485.6 117.19L485.74 117.19L485.88 117.19L486.01 117.19L486.15 117.19L486.29 117.19L486.43 117.19L486.57 117.19L486.71 117.19L486.85 117.19L486.98 117.19L487.12 117.19L487.26 117.19L487.4 117.19L487.54 117.19L487.68 117.19L487.81 117.19L487.95 117.19L488.09 117.19L488.23 117.19L488.37 117.19L488.51 117.19L488.65 117.19L488.78 117.19L488.92 117.19L489.06 117.19L489.2 117.19L489.34 117.19L489.48 117.19L489.62 117.19L489.75 117.19L489.89 117.19L490.03 117.19L490.17 117.19L490.31 117.19L490.45 117.19L490.59 117.19L490.72 117.19L490.86 117.19L491 117.19L491.14 117.19L491.28 117.19L491.42 117.19L491.56 117.19L491.69 117.19L491.83 117.19L491.97 117.19L492.11 117.19L492.25 117.19L492.39 117.19L492.53 117.19L492.66 117.19L492.8 117.19L492.94 117.19L493.08 117.19L493.22 117.19L493.36 117.19L493.49 117.19L493.63 117.19L493.77 117.19L493.91 117.19L494.05 117.19L494.19 117.19L494.33 117.19L494.46 117.19L494.6 117.19L494.74 117.19L494.88 117.19L495.02 117.19L495.16 117.19L495.3 117.19L495.43 117.19L495.57 117.19L495.71 117.19L495.85 117.19L495.99 117.19L496.13 117.19L496.27 117.19L496.4 117.19L496.54 117.19L496.68 117.19L496.82 117.19L496.96 117.19L497.1 117.19L497.24 117.19L497.37 117.19L497.51 117.19L497.65 117.19L497.79 117.19L497.93 117.19L498.07 117.19L498.2 117.19L498.34 117.19L498.48 117.19L498.62 117.19L498.76 117.19L498.9 117.19L499.04 117.19L499.17 117.19L499.31 117.19L499.45 117.19L499.59 117.19L499.73 117.19L499.87 117.19L500.01 117.19L500.14 117.19L500.28 117.19L500.42 117.19L500.56 117.19L500.7 117.19L500.84 117.19L500.98 117.19L501.11 117.19L501.25 117.19L501.39 117.19L501.53 117.19L501.67 117.19L501.81 117.19L501.95 117.19L502.08 117.19L502.22 117.19L502.36 117.19L502.5 117.19L502.64 117.19L502.78 117.19L502.92 117.19L503.05 117.19L503.19 117.19L503.33 117.19L503.47 117.19L503.61 117.19L503.75 117.19L503.88 117.19L504.02 117.19L504.16 117.19L504.3 117.19L504.44 117.19L504.58 117.19L504.72 117.19L504.85 117.19L504.99 117.19L505.13 117.19L505.27 117.19L505.41 117.19L505.55 117.19L505.69 117.19L505.82 117.19L505.96 117.19L506.1 117.19L506.24 117.19L506.38 117.19L506.52 117.19L506.66 117.19L506.79 117.19L506.93 117.19L507.07 117.19L507.21 117.19L507.35 117.19L507.49 117.19L507.63 117.19L507.76 117.19L507.9 117.19L508.04 117.19L508.18 117.19L508.32 117.19L508.46 117.19L508.59 117.19L508.73 117.19L508.87 117.19L509.01 117.19L509.15 117.19L509.29 117.19L509.43 117.19L509.56 117.19L509.7 117.19L509.84 117.19L509.98 117.19L510.12 117.19L510.26 117.19L510.4 117.19L510.53 117.19L510.67 117.19L510.81 117.19L510.95 117.19L511.09 117.19L511.23 117.19L511.37 117.19L511.5 117.19L511.64 117.19L511.78 117.19L511.92 117.19L512.06 117.19L512.2 117.19L512.34 117.19L512.47 117.19L512.61 117.19L512.75 117.19L512.89 117.19L513.03 117.19L513.17 117.19L513.31 117.19L513.44 117.19L513.58 117.19L513.72 117.19L513.86 117.19L514 117.19L514.14 117.19L514.27 117.19L514.41 117.19L514.55 117.19L514.69 117.19L514.83 117.19L514.97 117.19L515.11 117.19L515.24 117.19L515.38 117.19L515.52 117.19L515.66 117.19L515.8 117.19L515.94 117.19L516.08 117.19L516.21 117.19L516.35 117.19L516.49 117.19L516.63 117.19L516.77 117.19L516.91 117.19L517.05 117.19L517.18 117.19L517.32 117.19L517.46 117.19L517.6 117.19L517.74 117.19L517.88 117.19L518.02 117.19L518.15 117.19L518.29 117.19L518.43 117.19L518.57 117.19L518.71 117.19L518.85 117.19L518.98 117.19L519.12 117.19L519.26 117.19L519.4 117.19L519.54 117.19L519.68 117.19L519.82 117.19L519.95 117.19L520.09 117.19L520.23 117.19L520.37 117.19L520.51 117.19L520.65 117.19L520.79 117.19L520.92 117.19L521.06 117.19L521.2 117.19L521.34 117.19L521.48 117.19L521.62 117.19L521.76 117.19L521.89 117.19L522.03 117.19L522.17 117.19L522.31 117.19L522.45 117.19L522.59 117.19L522.73 117.19L522.86 117.19L523 117.19L523.14 117.19L523.28 117.19L523.42 117.19L523.56 117.19L523.7 117.19L523.83 117.19L523.97 117.19L524.11 117.19L524.25 117.19L524.39 117.19L524.53 117.19L524.66 117.19L524.8 117.19L524.94 117.19L525.08 117.19L525.22 117.19L525.36 117.19L525.5 117.19L525.63 117.19L525.77 117.19L525.91 117.19L526.05 117.19L526.19 117.19L526.33 117.19L526.47 117.19L526.6 117.19L526.74 117.19L526.88 117.19L527.02 117.19L527.16 117.19L527.3 117.19L527.44 117.19L527.57 117.19L527.71 117.19L527.85 117.19L527.99 117.19L528.13 117.19L528.27 117.19L528.41 117.19L528.54 117.19L528.68 117.19L528.82 117.19L528.96 117.19L529.1 117.19L529.24 117.19L529.37 117.19L529.51 117.19L529.65 117.19L529.79 117.19L529.93 117.19L530.07 117.19L530.21 117.19L530.34 117.19L530.48 117.19L530.62 117.19L530.76 117.19L530.9 117.19L531.04 117.19L531.18 117.19L531.31 117.19L531.45 117.19L531.59 117.19L531.73 117.19L531.87 117.19L532.01 117.19L532.15 117.19L532.28 117.19L532.42 117.19L532.56 117.19L532.7 117.19L532.84 117.19L532.98 117.19L533.12 117.19L533.25 117.19L533.39 117.19L533.53 117.19L533.67 117.19L533.81 117.19L533.95 117.19L534.09 117.19L534.22 117.19L534.36 117.19L534.5 117.19L534.64 117.19L534.78 117.19L534.92 117.19L535.05 117.19L535.19 117.19L535.33 117.19L535.47 117.19L535.61 117.19L535.75 117.19L535.89 117.19L536.02 117.19L536.16 117.19L536.3 117.19L536.44 117.19L536.58 117.19L536.72 117.19L536.86 117.19L536.99 117.19L537.13 117.19L537.27 117.19L537.41 117.19L537.55 117.19L537.69 117.19L537.83 117.19L537.96 117.19L538.1 117.19L538.24 117.19L538.38 117.19L538.52 117.19L538.66 117.19L538.8 117.19L538.93 117.19L539.07 117.19L539.21 117.19L539.35 117.19L539.49 117.19L539.63 117.19L539.76 117.19L539.9 117.19L540.04 117.19L540.18 117.19L540.32 117.19L540.46 117.19L540.6 117.19L540.73 117.19L540.87 117.19L541.01 117.19L541.15 117.19L541.29 117.19L541.43 117.19L541.57 117.19L541.7 117.19L541.84 117.19L541.98 117.19L542.12 117.19L542.26 117.19L542.4 117.19L542.54 117.19L542.67 117.19L542.81 117.19L542.95 117.19L543.09 117.19L543.23 117.19L543.37 117.19L543.51 117.19L543.64 117.19L543.78 117.19L543.92 117.19L544.06 117.19L544.2 117.19L544.34 117.19L544.48 117.19L544.61 117.19L544.75 117.19L544.89 117.19L545.03 117.19L545.17 117.19L545.31 117.19L545.44 117.19L545.58 117.19L545.72 117.19L545.86 117.19L546 117.19L546.14 117.19L546.28 117.19L546.41 117.19L546.55 117.19L546.69 117.19L546.83 117.19L546.97 117.19L547.11 117.19L547.25 117.19L547.38 117.19L547.52 117.19L547.66 117.19L547.8 117.19L547.94 117.19L548.08 117.19L548.22 117.19L548.35 117.19L548.49 117.19L548.63 117.19L548.77 117.19L548.91 117.19L549.05 117.19L549.19 117.19L549.32 117.19L549.46 117.19L549.6 117.19L549.74 117.19L549.88 117.19L550.02 117.19L550.15 117.19L550.29 117.19L550.43 117.19L550.57 117.19L550.71 117.19L550.85 117.19L550.99 117.19L551.12 117.19L551.26 117.19L551.4 117.19L551.54 117.19L551.68 117.19L551.82 117.19L551.96 117.19L552.09 117.19L552.23 117.19L552.37 117.19L552.51 117.19L552.65 117.19L552.79 117.19L552.93 117.19L553.06 117.19L553.2 117.19L553.34 117.19L553.48 117.19L553.62 117.19L553.76 117.19L553.9 117.19L554.03 117.19L554.17 117.19L554.31 117.19L554.45 117.19L554.59 117.19L554.73 117.19L554.87 117.19L555 117.19L555.14 117.19L555.28 117.19L555.42 117.19L555.56 117.19L555.7 117.19L555.83 117.19L555.97 117.19L556.11 117.19L556.25 117.19L556.39 117.19L556.53 117.19L556.67 117.19L556.8 117.19L556.94 117.19L557.08 117.19L557.22 117.19L557.36 117.19L557.5 117.19L557.64 117.19L557.77 117.19L557.91 117.19L558.05 117.19L558.19 117.19L558.33 117.19L558.47 117.19L558.61 117.19L558.74 117.19L558.88 117.19L559.02 117.19L559.16 117.19L559.3 117.19L559.44 117.19L559.58 117.19L559.71 117.19L559.85 117.19L559.99 117.19L560.13 117.19L560.27 117.19L560.41 117.19L560.54 117.19L560.68 117.19L560.82 117.19L560.96 117.19L561.1 117.19L561.24 117.19L561.38 117.19L561.51 117.19L561.65 117.19L561.79 117.19L561.93 117.19L562.07 117.19L562.21 117.19L562.35 117.19L562.48 117.19L562.62 117.19L562.76 117.19L562.9 117.19" fill="none" stroke="#000" stroke-width="1.15" stroke-linejoin="round"/>
<rect x="49.5" y="206.3" width="179.5" height="257.1" fill="none" stroke="#000" stroke-width="1.2"/>
<text x="50.8" y="481.4" font-size="14.1" text-anchor="middle" font-family='"Liberation Sans", sans-serif' fill="#000" stroke="#000" stroke-width="0.55" letter-spacing="-0.35" >0</text>
<line x1="73.43" y1="463.4" x2="73.43" y2="454.6" stroke="#000" stroke-width="1.2"/>
<line x1="73.43" y1="206.3" x2="73.43" y2="215.1" stroke="#000" stroke-width="1.2"/>
<text x="74.73" y="481.4" font-size="14.1" text-anchor="middle" font-family='"Liberation Sans", sans-serif' fill="#000" stroke="#000" stroke-width="0.55" letter-spacing="-0.35" >20</text>
<line x1="97.37" y1="463.4" x2="97.37" y2="454.6" stroke="#000" stroke-width="1.2"/>
<line x1="97.37" y1="206.3" x2="97.37" y2="215.1" stroke="#000" stroke-width="1.2"/>
<text x="98.67" y="481.4" font-size="14.1" text-anchor="middle" font-family='"Liberation Sans", sans-serif' fill="#000" stroke="#000" stroke-width="0.55" letter-spacing="-0.35" >40</text>
<line x1="121.3" y1="463.4" x2="121.3" y2="454.6" stroke="#000" stroke-width="1.2"/>
<line x1="121.3" y1="206.3" x2="121.3" y2="215.1" stroke="#000" stroke-width="1.2"/>
<text x="122.6" y="481.4" font-size="14.1" text-anchor="middle" font-family='"Liberation Sans", sans-serif' fill="#000" stroke="#000" stroke-width="0.55" letter-spacing="-0.35" >60</text>
<line x1="145.23" y1="463.4" x2="145.23" y2="454.6" stroke="#000" stroke-width="1.2"/>
<line x1="145.23" y1="206.3" x2="145.23" y2="215.1" stroke="#000" stroke-width="1.2"/>
<text x="146.53" y="481.4" font-size="14.1" text-anchor="middle" font-family='"Liberation Sans", sans-serif' fill="#000" stroke="#000" stroke-width="0.55" letter-spacing="-0.35" >80</text>
<line x1="169.17" y1="463.4" x2="169.17" y2="454.6" stroke="#000" stroke-width="1.2"/>
<line x1="169.17" y1="206.3" x2="169.17" y2="215.1" stroke="#000" stroke-width="1.2"/>
<text x="170.47" y="481.4" font-size="14.1" text-anchor="middle" font-family='"Liberation Sans", sans-serif' fill="#000" stroke="#000" stroke-width="0.55" letter-spacing="-0.35" >100</text>
<line x1="193.1" y1="463.4" x2="193.1" y2="454.6" stroke="#000" stroke-width="1.2"/>
<line x1="193.1" y1="206.3" x2="193.1" y2="215.1" stroke="#000" stroke-width="1.2"/>
<text x="194.4" y="481.4" font-size="14.1" text-anchor="middle" font-family='"Liberation Sans", sans-serif' fill="#000" stroke="#000" stroke-width="0.55" letter-spacing="-0.35" >120</text>
<line x1="217.03" y1="463.4" x2="217.03" y2="454.6" stroke="#000" stroke-width="1.2"/>
<line x1="217.03" y1="206.3" x2="217.03" y2="215.1" stroke="#000" stroke-width="1.2"/>
<text x="218.33" y="481.4" font-size="14.1" text-anchor="middle" font-family='"Liberation Sans", sans-serif' fill="#000" stroke="#000" stroke-width="0.55" letter-spacing="-0.35" >140</text>
<text x="41.7" y="468.6" font-size="14.1" text-anchor="end" font-family='"Liberation Sans", sans-serif' fill="#000" stroke="#000" stroke-width="0.55" letter-spacing="-0.35" >0</text>
<line x1="49.5" y1="411.98" x2="58.3" y2="411.98" stroke="#000" stroke-width="1.2"/>
<line x1="229" y1="411.98" x2="220.2" y2="411.98" stroke="#000" stroke-width="1.2"/>
<text x="41.7" y="417.18" font-size="14.1" text-anchor="end" font-family='"Liberation Sans", sans-serif' fill="#000" stroke="#000" stroke-width="0.55" letter-spacing="-0.35" >20</text>
<line x1="49.5" y1="360.56" x2="58.3" y2="360.56" stroke="#000" stroke-width="1.2"/>
<line x1="229" y1="360.56" x2="220.2" y2="360.56" stroke="#000" stroke-width="1.2"/>
<text x="41.7" y="365.76" font-size="14.1" text-anchor="end" font-family='"Liberation Sans", sans-serif' fill="#000" stroke="#000" stroke-width="0.55" letter-spacing="-0.35" >40</text>
<line x1="49.5" y1="309.14" x2="58.3" y2="309.14" stroke="#000" stroke-width="1.2"/>
<line x1="229" y1="309.14" x2="220.2" y2="309.14" stroke="#000" stroke-width="1.2"/>
<text x="41.7" y="314.34" font-size="14.1" text-anchor="end" font-family='"Liberation Sans", sans-serif' fill="#000" stroke="#000" stroke-width="0.55" letter-spacing="-0.35" >60</text>
<line x1="49.5" y1="257.72" x2="58.3" y2="257.72" stroke="#000" stroke-width="1.2"/>
<line x1="229" y1="257.72" x2="220.2" y2="257.72" stroke="#000" stroke-width="1.2"/>
<text x="41.7" y="262.92" font-size="14.1" text-anchor="end" font-family='"Liberation Sans", sans-serif' fill="#000" stroke="#000" stroke-width="0.55" letter-spacing="-0.35" >80</text>
<text x="41.7" y="211.5" font-size="14.1" text-anchor="end" font-family='"Liberation Sans", sans-serif' fill="#000" stroke="#000" stroke-width="0.55" letter-spacing="-0.35" >100</text>
<rect x="232.5" y="206.3" width="9.7" height="257.1" fill="url(#gc)" stroke="#000" stroke-width="1.2"/>
<text x="250.5" y="468.6" font-size="14.1" text-anchor="start" font-family='"Liberation Sans", sans-serif' fill="#000" stroke="#000" stroke-width="0.55" letter-spacing="-0.35" >0</text>
<line x1="232.5" y1="431.26" x2="242.2" y2="431.26" stroke="#000" stroke-width="1.4"/>
<text x="250.5" y="436.46" font-size="14.1" text-anchor="start" font-family='"Liberation Sans", sans-serif' fill="#000" stroke="#000" stroke-width="0.55" letter-spacing="-0.35" >0.1</text>
<line x1="232.5" y1="399.12" x2="242.2" y2="399.12" stroke="#000" stroke-width="1.4"/>
<text x="250.5" y="404.32" font-size="14.1" text-anchor="start" font-family='"Liberation Sans", sans-serif' fill="#000" stroke="#000" stroke-width="0.55" letter-spacing="-0.35" >0.2</text>
<line x1="232.5" y1="366.99" x2="242.2" y2="366.99" stroke="#000" stroke-width="1.4"/>
<text x="250.5" y="372.19" font-size="14.1" text-anchor="start" font-family='"Liberation Sans", sans-serif' fill="#000" stroke="#000" stroke-width="0.55" letter-spacing="-0.35" >0.3</text>
<line x1="232.5" y1="334.85" x2="242.2" y2="334.85" stroke="#000" stroke-width="1.4"/>
<text x="250.5" y="340.05" font-size="14.1" text-anchor="start" font-family='"Liberation Sans", sans-serif' fill="#000" stroke="#000" stroke-width="0.55" letter-spacing="-0.35" >0.4</text>
<line x1="232.5" y1="302.71" x2="242.2" y2="302.71" stroke="#000" stroke-width="1.4"/>
<text x="250.5" y="307.91" font-size="14.1" text-anchor="start" font-family='"Liberation Sans", sans-serif' fill="#000" stroke="#000" stroke-width="0.55" letter-spacing="-0.35" >0.5</text>
<line x1="232.5" y1="270.57" x2="242.2" y2="270.57" stroke="#000" stroke-width="1.4"/>
<text x="250.5" y="275.77" font-size="14.1" text-anchor="start" font-family='"Liberation Sans", sans-serif' fill="#000" stroke="#000" stroke-width="0.55" letter-spacing="-0.35" >0.6</text>
<line x1="232.5" y1="238.44" x2="242.2" y2="238.44" stroke="#000" stroke-width="1.4"/>
<text x="250.5" y="243.64" font-size="14.1" text-anchor="start" font-family='"Liberation Sans", sans-serif' fill="#000" stroke="#000" stroke-width="0.55" letter-spacing="-0.35" >0.7</text>
<text x="250.5" y="211.5" font-size="14.1" text-anchor="start" font-family='"Liberation Sans", sans-serif' fill="#000" stroke="#000" stroke-width="0.55" letter-spacing="-0.35" >0.8</text>
<text x="68.1" y="239.2" font-size="19.6" text-anchor="start" font-family='"Liberation Sans", sans-serif' fill="#fff" stroke="#fff" stroke-width="0.45"  >(c)</text>
<text x="111.2" y="503.7" font-size="20" text-anchor="start" font-family='"Liberation Serif", serif' fill="#000" stroke="#000" stroke-width="0"  font-style="italic">x</text>
<text x="121" y="503.7" font-size="19" text-anchor="start" font-family='"Liberation Sans", sans-serif' fill="#000" stroke="#000" stroke-width="0.25"  >(mm)</text>
<text transform="translate(15.3 334.85) rotate(-90)" text-anchor="middle" font-size="19" stroke="#000" stroke-width="0.4" font-family='"Liberation Sans", sans-serif'><tspan font-family='"Liberation Serif", serif' font-style="italic">t</tspan>(min)</text>
<text transform="translate(289.8 402) rotate(-90)" text-anchor="start" font-size="14.1" stroke="#000" stroke-width="0.35" font-family='"Liberation Sans", sans-serif'>cAMP concentration</text>
<g transform="translate(275.96 215.11) scale(0.72)" fill="none" stroke="#000" stroke-linecap="round"><path d="M10.9 73.7 C13 74.2 15.5 75.4 17.6 76.6" stroke-width="1.9"/><path d="M11.6 79.1 C12.6 77.9 15 77.2 17.6 76.6" stroke-width="1.6"/><circle cx="11.5" cy="79.2" r="1.2" fill="#000" stroke="none"/><path d="M17.2 76.6 L23.2 76.4" stroke-width="1.8"/></g>
<rect x="354.8" y="206.3" width="178.9" height="257.1" fill="none" stroke="#000" stroke-width="1.2"/>
<text x="356.1" y="481.4" font-size="14.1" text-anchor="middle" font-family='"Liberation Sans", sans-serif' fill="#000" stroke="#000" stroke-width="0.55" letter-spacing="-0.35" >0</text>
<line x1="378.65" y1="463.4" x2="378.65" y2="454.6" stroke="#000" stroke-width="1.2"/>
<line x1="378.65" y1="206.3" x2="378.65" y2="215.1" stroke="#000" stroke-width="1.2"/>
<text x="379.95" y="481.4" font-size="14.1" text-anchor="middle" font-family='"Liberation Sans", sans-serif' fill="#000" stroke="#000" stroke-width="0.55" letter-spacing="-0.35" >20</text>
<line x1="402.51" y1="463.4" x2="402.51" y2="454.6" stroke="#000" stroke-width="1.2"/>
<line x1="402.51" y1="206.3" x2="402.51" y2="215.1" stroke="#000" stroke-width="1.2"/>
<text x="403.81" y="481.4" font-size="14.1" text-anchor="middle" font-family='"Liberation Sans", sans-serif' fill="#000" stroke="#000" stroke-width="0.55" letter-spacing="-0.35" >40</text>
<line x1="426.36" y1="463.4" x2="426.36" y2="454.6" stroke="#000" stroke-width="1.2"/>
<line x1="426.36" y1="206.3" x2="426.36" y2="215.1" stroke="#000" stroke-width="1.2"/>
<text x="427.66" y="481.4" font-size="14.1" text-anchor="middle" font-family='"Liberation Sans", sans-serif' fill="#000" stroke="#000" stroke-width="0.55" letter-spacing="-0.35" >60</text>
<line x1="450.21" y1="463.4" x2="450.21" y2="454.6" stroke="#000" stroke-width="1.2"/>
<line x1="450.21" y1="206.3" x2="450.21" y2="215.1" stroke="#000" stroke-width="1.2"/>
<text x="451.51" y="481.4" font-size="14.1" text-anchor="middle" font-family='"Liberation Sans", sans-serif' fill="#000" stroke="#000" stroke-width="0.55" letter-spacing="-0.35" >80</text>
<line x1="474.07" y1="463.4" x2="474.07" y2="454.6" stroke="#000" stroke-width="1.2"/>
<line x1="474.07" y1="206.3" x2="474.07" y2="215.1" stroke="#000" stroke-width="1.2"/>
<text x="475.37" y="481.4" font-size="14.1" text-anchor="middle" font-family='"Liberation Sans", sans-serif' fill="#000" stroke="#000" stroke-width="0.55" letter-spacing="-0.35" >100</text>
<line x1="497.92" y1="463.4" x2="497.92" y2="454.6" stroke="#000" stroke-width="1.2"/>
<line x1="497.92" y1="206.3" x2="497.92" y2="215.1" stroke="#000" stroke-width="1.2"/>
<text x="499.22" y="481.4" font-size="14.1" text-anchor="middle" font-family='"Liberation Sans", sans-serif' fill="#000" stroke="#000" stroke-width="0.55" letter-spacing="-0.35" >120</text>
<line x1="521.77" y1="463.4" x2="521.77" y2="454.6" stroke="#000" stroke-width="1.2"/>
<line x1="521.77" y1="206.3" x2="521.77" y2="215.1" stroke="#000" stroke-width="1.2"/>
<text x="523.07" y="481.4" font-size="14.1" text-anchor="middle" font-family='"Liberation Sans", sans-serif' fill="#000" stroke="#000" stroke-width="0.55" letter-spacing="-0.35" >140</text>
<text x="347" y="468.6" font-size="14.1" text-anchor="end" font-family='"Liberation Sans", sans-serif' fill="#000" stroke="#000" stroke-width="0.55" letter-spacing="-0.35" >0</text>
<line x1="354.8" y1="411.98" x2="363.6" y2="411.98" stroke="#000" stroke-width="1.2"/>
<line x1="533.7" y1="411.98" x2="524.9" y2="411.98" stroke="#000" stroke-width="1.2"/>
<text x="347" y="417.18" font-size="14.1" text-anchor="end" font-family='"Liberation Sans", sans-serif' fill="#000" stroke="#000" stroke-width="0.55" letter-spacing="-0.35" >20</text>
<line x1="354.8" y1="360.56" x2="363.6" y2="360.56" stroke="#000" stroke-width="1.2"/>
<line x1="533.7" y1="360.56" x2="524.9" y2="360.56" stroke="#000" stroke-width="1.2"/>
<text x="347" y="365.76" font-size="14.1" text-anchor="end" font-family='"Liberation Sans", sans-serif' fill="#000" stroke="#000" stroke-width="0.55" letter-spacing="-0.35" >40</text>
<line x1="354.8" y1="309.14" x2="363.6" y2="309.14" stroke="#000" stroke-width="1.2"/>
<line x1="533.7" y1="309.14" x2="524.9" y2="309.14" stroke="#000" stroke-width="1.2"/>
<text x="347" y="314.34" font-size="14.1" text-anchor="end" font-family='"Liberation Sans", sans-serif' fill="#000" stroke="#000" stroke-width="0.55" letter-spacing="-0.35" >60</text>
<line x1="354.8" y1="257.72" x2="363.6" y2="257.72" stroke="#000" stroke-width="1.2"/>
<line x1="533.7" y1="257.72" x2="524.9" y2="257.72" stroke="#000" stroke-width="1.2"/>
<text x="347" y="262.92" font-size="14.1" text-anchor="end" font-family='"Liberation Sans", sans-serif' fill="#000" stroke="#000" stroke-width="0.55" letter-spacing="-0.35" >80</text>
<text x="347" y="211.5" font-size="14.1" text-anchor="end" font-family='"Liberation Sans", sans-serif' fill="#000" stroke="#000" stroke-width="0.55" letter-spacing="-0.35" >100</text>
<rect x="538" y="206.3" width="9.6" height="257.1" fill="url(#gd)" stroke="#000" stroke-width="1.2"/>
<text x="555.9" y="468.6" font-size="14.1" text-anchor="start" font-family='"Liberation Sans", sans-serif' fill="#000" stroke="#000" stroke-width="0.55" letter-spacing="-0.35" >0</text>
<line x1="538" y1="437.69" x2="547.6" y2="437.69" stroke="#000" stroke-width="1.4"/>
<text x="555.9" y="442.89" font-size="14.1" text-anchor="start" font-family='"Liberation Sans", sans-serif' fill="#000" stroke="#000" stroke-width="0.55" letter-spacing="-0.35" >0.2</text>
<line x1="538" y1="411.98" x2="547.6" y2="411.98" stroke="#000" stroke-width="1.4"/>
<text x="555.9" y="417.18" font-size="14.1" text-anchor="start" font-family='"Liberation Sans", sans-serif' fill="#000" stroke="#000" stroke-width="0.55" letter-spacing="-0.35" >0.4</text>
<line x1="538" y1="386.27" x2="547.6" y2="386.27" stroke="#000" stroke-width="1.4"/>
<text x="555.9" y="391.47" font-size="14.1" text-anchor="start" font-family='"Liberation Sans", sans-serif' fill="#000" stroke="#000" stroke-width="0.55" letter-spacing="-0.35" >0.6</text>
<line x1="538" y1="360.56" x2="547.6" y2="360.56" stroke="#000" stroke-width="1.4"/>
<text x="555.9" y="365.76" font-size="14.1" text-anchor="start" font-family='"Liberation Sans", sans-serif' fill="#000" stroke="#000" stroke-width="0.55" letter-spacing="-0.35" >0.8</text>
<line x1="538" y1="334.85" x2="547.6" y2="334.85" stroke="#000" stroke-width="1.4"/>
<text x="555.9" y="340.05" font-size="14.1" text-anchor="start" font-family='"Liberation Sans", sans-serif' fill="#000" stroke="#000" stroke-width="0.55" letter-spacing="-0.35" >1</text>
<line x1="538" y1="309.14" x2="547.6" y2="309.14" stroke="#000" stroke-width="1.4"/>
<text x="555.9" y="314.34" font-size="14.1" text-anchor="start" font-family='"Liberation Sans", sans-serif' fill="#000" stroke="#000" stroke-width="0.55" letter-spacing="-0.35" >1.2</text>
<line x1="538" y1="283.43" x2="547.6" y2="283.43" stroke="#000" stroke-width="1.4"/>
<text x="555.9" y="288.63" font-size="14.1" text-anchor="start" font-family='"Liberation Sans", sans-serif' fill="#000" stroke="#000" stroke-width="0.55" letter-spacing="-0.35" >1.4</text>
<line x1="538" y1="257.72" x2="547.6" y2="257.72" stroke="#000" stroke-width="1.4"/>
<text x="555.9" y="262.92" font-size="14.1" text-anchor="start" font-family='"Liberation Sans", sans-serif' fill="#000" stroke="#000" stroke-width="0.55" letter-spacing="-0.35" >1.6</text>
<line x1="538" y1="232.01" x2="547.6" y2="232.01" stroke="#000" stroke-width="1.4"/>
<text x="555.9" y="237.21" font-size="14.1" text-anchor="start" font-family='"Liberation Sans", sans-serif' fill="#000" stroke="#000" stroke-width="0.55" letter-spacing="-0.35" >1.8</text>
<text x="555.9" y="211.5" font-size="14.1" text-anchor="start" font-family='"Liberation Sans", sans-serif' fill="#000" stroke="#000" stroke-width="0.55" letter-spacing="-0.35" >2</text>
<text x="372.7" y="239.2" font-size="19.6" text-anchor="start" font-family='"Liberation Sans", sans-serif' fill="#fff" stroke="#fff" stroke-width="0.45"  >(d)</text>
<text x="416.5" y="503.7" font-size="20" text-anchor="start" font-family='"Liberation Serif", serif' fill="#000" stroke="#000" stroke-width="0"  font-style="italic">x</text>
<text x="426.3" y="503.7" font-size="19" text-anchor="start" font-family='"Liberation Sans", sans-serif' fill="#000" stroke="#000" stroke-width="0.25"  >(mm)</text>
<text transform="translate(320.6 334.85) rotate(-90)" text-anchor="middle" font-size="19" stroke="#000" stroke-width="0.4" font-family='"Liberation Sans", sans-serif'><tspan font-family='"Liberation Serif", serif' font-style="italic">t</tspan>(min)</text>
<text transform="translate(595.2 402) rotate(-90)" text-anchor="start" font-size="14.1" stroke="#000" stroke-width="0.35" font-family='"Liberation Sans", sans-serif'>cAMP concentration</text>
<g transform="translate(581.36 215.11) scale(0.72)" fill="none" stroke="#000" stroke-linecap="round"><path d="M10.9 73.7 C13 74.2 15.5 75.4 17.6 76.6" stroke-width="1.9"/><path d="M11.6 79.1 C12.6 77.9 15 77.2 17.6 76.6" stroke-width="1.6"/><circle cx="11.5" cy="79.2" r="1.2" fill="#000" stroke="none"/><path d="M17.2 76.6 L23.2 76.4" stroke-width="1.8"/></g>
</svg>
<script>
const PP=[[0.0, [0, 0, 0]], [0.012, [27, 2, 14]], [0.025, [36, 4, 34]], [0.05, [50, 8, 85]], [0.1, [78, 22, 140]], [0.15, [98, 38, 195]], [0.2, [110, 44, 232]], [0.25, [118, 46, 238]], [0.3, [132, 40, 228]], [0.35, [152, 30, 200]], [0.4, [175, 20, 160]], [0.45, [192, 12, 105]], [0.5, [206, 16, 55]], [0.55, [213, 30, 42]], [0.625, [217, 52, 26]], [0.7, [229, 80, 36]], [0.75, [235, 98, 40]], [0.8, [240, 122, 44]], [0.85, [245, 150, 48]], [0.9, [250, 185, 50]], [0.95, [254, 215, 58]], [1.0, [255, 240, 70]]];
function pal(x){x=Math.max(0,Math.min(1,x));for(let i=0;i<PP.length-1;i++){const a=PP[i],b=PP[i+1];if(x<=b[0]){const s=(x-a[0])/(b[0]-a[0]);return [a[1][0]+(b[1][0]-a[1][0])*s,a[1][1]+(b[1][1]-a[1][1])*s,a[1][2]+(b[1][2]-a[1][2])*s];}}return PP[PP.length-1][1];}
function draw(id,field,vmax){
  const c=document.getElementById(id);const ctx=c.getContext('2d');
  const w=c.width,h=c.height;const im=ctx.createImageData(w,h);const d=im.data;
  for(let j=0;j<h;j++){const T=100*(1-(j+0.5)/h);
    for(let i=0;i<w;i++){let r=0,g=0,b=0;
      for(let sj=0;sj<3;sj++){const TT=100*(1-(j+(sj+0.5)/3)/h);for(let si=0;si<3;si++){const X=150*(i+(si+0.5)/3)/w;const p=pal(field(X,TT)/vmax);r+=p[0];g+=p[1];b+=p[2];}}
      const k=4*(j*w+i);d[k]=r/9;d[k+1]=g/9;d[k+2]=b/9;d[k+3]=255;}}
  ctx.putImageData(im,0,0);
}
function smooth(a,b,x){if(x<=a)return 0;if(x>=b)return 1;const s=(x-a)/(b-a);return s*s*(3-2*s);}
function phaseS(T){return 3.9*T-0.01*T*T;}
function wrap(a){a=a%(2*Math.PI);if(a>Math.PI)a-=2*Math.PI;if(a<-Math.PI)a+=2*Math.PI;return a;}
function packet(X,T,o){
  const u=Math.pow(T/100,2);
  const Xc=o.xc0+o.xc1*T; const sig=o.s0+o.s1*Math.pow(T/100,o.se||1.1);
  const env=Math.exp(-Math.pow((X-Xc)/sig,2)/2);
  const A=o.amp(T)*env;
  const ph=wrap(2*Math.PI*(X-(o.ps?o.ps(T):phaseS(T))-o.xoff)/o.lam);
  const w=o.w0+o.w1*u; const tp=-(o.tp0+o.tp1*u); const tw=o.tw0+o.tw1*u;
  const pk=Math.exp(-ph*ph/(2*w*w));
  let d=wrap(ph-tp); const tr=Math.exp(-d*d/(2*tw*tw));
  return A*pk-Math.min(A*o.r,o.negmax)*tr;
}
function fd(X,T){
  const front=2.4+3.4*smooth(0,10,T);
  const base=0.024*smooth(1.8,3.2,X)+0.389*smooth(front-0.9,front+1.1,X);
  return base+0.6*Math.exp(-((X-7.4)*(X-7.4))/1.0-((T-12.3)*(T-12.3))/1.2)+smooth(front+0.5,front+3,X)*packet(X,T,{xc0:2,xc1:0.56,s0:2.3,s1:6.7,se:1.25,amp:t=>(0.2+1.15*Math.pow(t/100,1.15)+0.25*Math.pow(t/100,8))*smooth(3,14,t),lam:8.8,xoff:-235.7,
    w0:0.68,w1:0.35,tp0:1.25,tp1:1.8,tw0:0.6,tw1:0.2,r:0.8,negmax:0.24});
}
function fc(X,T){
  const front=2.4+1.4*smooth(0,4,T);
  const base=0.02*smooth(1.2,2.2,X)+0.48*smooth(front-0.25,front+0.45,X);
  const Xc=5+0.52*T, sig=4.2+2*T/100;
  const A=0.24*Math.exp(-T/11)*Math.exp(-Math.max(0,X-front)/6)+0.045*Math.exp(-Math.pow((X-Xc)/sig,2)/2);
  const ph=wrap(2*Math.PI*(X-2.2*T+0.006*T*T)/7.8);
  const pk=Math.exp(-ph*ph/(2*0.75*0.75));
  const d=wrap(ph+1.7); const tr=Math.exp(-d*d/(2*0.7*0.7));
  return base+smooth(front+0.3,front+2.5,X)*(A*pk-Math.min(A,0.05)*tr);
}
draw('cc',fc,0.8);
draw('cd',fd,2.0);

</script>
</body></html>
